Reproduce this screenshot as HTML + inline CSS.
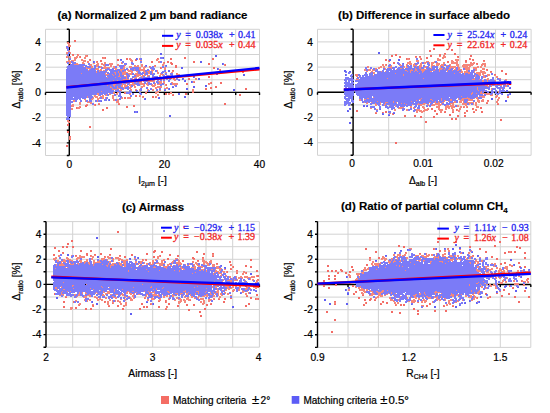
<!DOCTYPE html><html><head><meta charset="utf-8"><style>html,body{margin:0;padding:0;background:#fff;}svg{display:block;}</style></head><body><svg width="550" height="413" viewBox="0 0 550 413"><rect width="550" height="413" fill="#fff"/><style>text.r{stroke:#000;stroke-width:0.22px}</style><path d="M45.5 29.3V155.5M69.3 29.3V155.5M93.1 29.3V155.5M116.8 29.3V155.5M140.6 29.3V155.5M164.4 29.3V155.5M188.2 29.3V155.5M211.9 29.3V155.5M235.7 29.3V155.5M259.5 29.3V155.5M45.5 155.5H259.5M45.5 142.9H259.5M45.5 130.3H259.5M45.5 117.6H259.5M45.5 105H259.5M45.5 92.4H259.5M45.5 79.8H259.5M45.5 67.2H259.5M45.5 54.5H259.5M45.5 41.9H259.5M45.5 29.3H259.5" stroke="#d2d2d2" stroke-width="1" fill="none"/><path d="M317.5 29.3V155.3M353.1 29.3V155.3M388.7 29.3V155.3M424.3 29.3V155.3M459.9 29.3V155.3M495.5 29.3V155.3M531.1 29.3V155.3M317.5 155.3H531.1M317.5 142.7H531.1M317.5 130.1H531.1M317.5 117.5H531.1M317.5 104.9H531.1M317.5 92.3H531.1M317.5 79.7H531.1M317.5 67.1H531.1M317.5 54.5H531.1M317.5 41.9H531.1M317.5 29.3H531.1" stroke="#d2d2d2" stroke-width="1" fill="none"/><path d="M46 221.6V347.2M72.7 221.6V347.2M99.3 221.6V347.2M126 221.6V347.2M152.7 221.6V347.2M179.4 221.6V347.2M206 221.6V347.2M232.7 221.6V347.2M259.4 221.6V347.2M46 347.2H259.4M46 334.6H259.4M46 322.1H259.4M46 309.5H259.4M46 297H259.4M46 284.4H259.4M46 271.8H259.4M46 259.3H259.4M46 246.7H259.4M46 234.2H259.4M46 221.6H259.4" stroke="#d2d2d2" stroke-width="1" fill="none"/><path d="M317.5 221.6V347.4M348 221.6V347.4M378.4 221.6V347.4M408.9 221.6V347.4M439.4 221.6V347.4M469.9 221.6V347.4M500.3 221.6V347.4M530.8 221.6V347.4M317.5 347.4H530.8M317.5 334.8H530.8M317.5 322.2H530.8M317.5 309.7H530.8M317.5 297.1H530.8M317.5 284.5H530.8M317.5 271.9H530.8M317.5 259.3H530.8M317.5 246.8H530.8M317.5 234.2H530.8M317.5 221.6H530.8" stroke="#d2d2d2" stroke-width="1" fill="none"/><path d="M45.5 92.4H259.5M69.3 29.3V155.5M66.8 155.5H69.3M66.8 142.9H69.3M66.8 130.3H69.3M66.8 117.6H69.3M66.8 105H69.3M66.8 92.4H69.3M66.8 79.8H69.3M66.8 67.2H69.3M66.8 54.5H69.3M66.8 41.9H69.3M66.8 29.3H69.3M45.5 92.4V94.9M69.3 92.4V94.9M93.1 92.4V94.9M116.8 92.4V94.9M140.6 92.4V94.9M164.4 92.4V94.9M188.2 92.4V94.9M211.9 92.4V94.9M235.7 92.4V94.9M259.5 92.4V94.9" stroke="#000" stroke-width="1.4" fill="none"/><path d="M317.5 92.3H531.1M353.1 29.3V155.3M350.6 155.3H353.1M350.6 142.7H353.1M350.6 130.1H353.1M350.6 117.5H353.1M350.6 104.9H353.1M350.6 92.3H353.1M350.6 79.7H353.1M350.6 67.1H353.1M350.6 54.5H353.1M350.6 41.9H353.1M350.6 29.3H353.1M317.5 92.3V94.8M353.1 92.3V94.8M388.7 92.3V94.8M424.3 92.3V94.8M459.9 92.3V94.8M495.5 92.3V94.8M531.1 92.3V94.8" stroke="#000" stroke-width="1.4" fill="none"/><path d="M46 284.4H259.4M46 221.6V347.2M43.5 347.2H46M43.5 334.6H46M43.5 322.1H46M43.5 309.5H46M43.5 297H46M43.5 284.4H46M43.5 271.8H46M43.5 259.3H46M43.5 246.7H46M43.5 234.2H46M43.5 221.6H46M46 284.4V286.9M72.7 284.4V286.9M99.3 284.4V286.9M126 284.4V286.9M152.7 284.4V286.9M179.4 284.4V286.9M206 284.4V286.9M232.7 284.4V286.9M259.4 284.4V286.9" stroke="#000" stroke-width="1.4" fill="none"/><path d="M317.5 284.5H530.8M317.5 221.6V347.4M315 347.4H317.5M315 334.8H317.5M315 322.2H317.5M315 309.7H317.5M315 297.1H317.5M315 284.5H317.5M315 271.9H317.5M315 259.3H317.5M315 246.8H317.5M315 234.2H317.5M315 221.6H317.5M317.5 284.5V287M348 284.5V287M378.4 284.5V287M408.9 284.5V287M439.4 284.5V287M469.9 284.5V287M500.3 284.5V287M530.8 284.5V287" stroke="#000" stroke-width="1.4" fill="none"/><path d="M67 43h3v1h-3zM68 44h2v3h-2zM70 45h1v2h-1zM66 48h1v1h-1zM69 50h1v2h-1zM68 51h1v1h-1zM66 52h2v2h-2zM70 52h1v2h-1zM78 54h1v2h-1zM444 54h2v1h-2zM72 55h1v1h-1zM77 55h1v3h-1zM85 55h2v2h-2zM443 55h2v3h-2zM66 56h2v1h-2zM69 56h2v2h-2zM76 56h1v3h-1zM79 56h1v2h-1zM87 56h1v1h-1zM439 56h2v1h-2zM445 56h1v2h-1zM67 57h1v1h-1zM74 57h2v4h-2zM84 57h2v2h-2zM103 57h2v2h-2zM415 57h2v1h-2zM419 57h2v1h-2zM442 57h1v2h-1zM457 57h1v1h-1zM102 58h1v1h-1zM129 58h2v2h-2zM139 58h1v2h-1zM158 58h1v2h-1zM407 58h2v2h-2zM420 58h2v1h-2zM437 58h2v3h-2zM443 58h1v1h-1zM470 58h1v1h-1zM81 59h2v2h-2zM131 59h1v3h-1zM156 59h2v2h-2zM409 59h1v1h-1zM420 59h1v1h-1zM439 59h2v2h-2zM455 59h4v2h-4zM68 60h2v2h-2zM71 60h3v1h-3zM83 60h3v2h-3zM89 60h1v1h-1zM130 60h1v1h-1zM132 60h1v2h-1zM140 60h2v1h-2zM388 60h1v2h-1zM416 60h3v2h-3zM451 60h2v4h-2zM472 60h1v1h-1zM66 61h2v1h-2zM70 61h1v3h-1zM73 61h1v1h-1zM87 61h2v2h-2zM96 61h1v2h-1zM158 61h2v2h-2zM409 61h2v4h-2zM426 61h3v1h-3zM434 61h1v2h-1zM453 61h1v3h-1zM456 61h2v5h-2zM483 61h2v1h-2zM66 62h1v1h-1zM69 62h1v2h-1zM82 62h2v2h-2zM97 62h1v5h-1zM104 62h2v2h-2zM121 62h1v2h-1zM163 62h1v4h-1zM170 62h1v2h-1zM407 62h2v2h-2zM421 62h1v5h-1zM424 62h3v1h-3zM429 62h1v2h-1zM431 62h3v2h-3zM437 62h1v4h-1zM443 62h2v2h-2zM454 62h2v2h-2zM465 62h2v1h-2zM470 62h2v4h-2zM473 62h2v2h-2zM76 63h2v2h-2zM84 63h1v1h-1zM93 63h2v1h-2zM98 63h1v3h-1zM101 63h2v2h-2zM109 63h4v2h-4zM122 63h1v1h-1zM164 63h1v1h-1zM411 63h1v2h-1zM414 63h1v3h-1zM420 63h1v6h-1zM424 63h2v1h-2zM436 63h1v3h-1zM438 63h2v2h-2zM472 63h1v3h-1zM482 63h4v2h-4zM74 64h2v1h-2zM78 64h1v1h-1zM90 64h2v2h-2zM96 64h1v3h-1zM103 64h2v2h-2zM117 64h2v2h-2zM131 64h1v1h-1zM141 64h2v3h-2zM162 64h1v2h-1zM224 64h1v2h-1zM382 64h2v2h-2zM385 64h1v2h-1zM400 64h1v2h-1zM406 64h2v1h-2zM413 64h1v3h-1zM417 64h1v1h-1zM431 64h2v2h-2zM441 64h3v2h-3zM449 64h2v1h-2zM458 64h1v7h-1zM463 64h7v2h-7zM473 64h1v1h-1zM476 64h1v1h-1zM481 64h1v4h-1zM89 65h1v1h-1zM110 65h2v2h-2zM124 65h2v1h-2zM134 65h2v2h-2zM137 65h2v2h-2zM154 65h1v2h-1zM386 65h1v1h-1zM391 65h1v4h-1zM399 65h1v1h-1zM401 65h1v1h-1zM406 65h1v3h-1zM415 65h2v1h-2zM419 65h1v4h-1zM433 65h2v1h-2zM438 65h1v1h-1zM440 65h1v5h-1zM446 65h2v1h-2zM450 65h1v4h-1zM462 65h1v2h-1zM482 65h1v1h-1zM484 65h2v2h-2zM83 66h1v1h-1zM91 66h2v2h-2zM100 66h2v1h-2zM104 66h2v3h-2zM113 66h2v2h-2zM124 66h1v3h-1zM129 66h3v2h-3zM136 66h1v1h-1zM144 66h1v10h-1zM150 66h1v1h-1zM155 66h1v1h-1zM367 66h2v2h-2zM380 66h2v2h-2zM383 66h2v2h-2zM390 66h1v2h-1zM404 66h1v2h-1zM416 66h1v1h-1zM425 66h2v1h-2zM431 66h1v3h-1zM443 66h1v1h-1zM451 66h5v2h-5zM457 66h1v1h-1zM463 66h5v2h-5zM469 66h2v1h-2zM477 66h2v2h-2zM480 66h1v2h-1zM86 67h1v2h-1zM100 67h1v1h-1zM103 67h1v2h-1zM106 67h4v1h-4zM123 67h1v3h-1zM139 67h2v3h-2zM143 67h1v5h-1zM145 67h1v1h-1zM149 67h1v1h-1zM161 67h1v2h-1zM164 67h2v3h-2zM378 67h2v2h-2zM388 67h2v1h-2zM403 67h1v1h-1zM407 67h1v1h-1zM424 67h2v1h-2zM429 67h1v1h-1zM449 67h1v3h-1zM459 67h1v3h-1zM468 67h2v3h-2zM473 67h4v2h-4zM87 68h4v1h-4zM96 68h3v2h-3zM106 68h1v1h-1zM109 68h1v1h-1zM114 68h3v1h-3zM375 68h2v1h-2zM385 68h1v2h-1zM400 68h2v1h-2zM415 68h1v3h-1zM439 68h1v4h-1zM441 68h2v1h-2zM445 68h1v1h-1zM453 68h1v1h-1zM455 68h1v2h-1zM465 68h3v2h-3zM482 68h3v2h-3zM89 69h1v1h-1zM95 69h1v1h-1zM100 69h2v2h-2zM115 69h2v1h-2zM120 69h3v1h-3zM128 69h1v3h-1zM134 69h1v2h-1zM141 69h2v2h-2zM151 69h1v2h-1zM219 69h1v2h-1zM364 69h2v2h-2zM368 69h3v2h-3zM372 69h1v3h-1zM375 69h1v1h-1zM396 69h1v1h-1zM411 69h1v2h-1zM416 69h1v2h-1zM421 69h6v1h-6zM435 69h1v1h-1zM441 69h1v1h-1zM444 69h1v1h-1zM448 69h1v1h-1zM454 69h1v1h-1zM460 69h2v1h-2zM475 69h2v2h-2zM88 70h1v1h-1zM99 70h1v2h-1zM103 70h2v1h-2zM107 70h1v1h-1zM120 70h2v1h-2zM127 70h1v1h-1zM129 70h3v2h-3zM140 70h1v1h-1zM149 70h1v4h-1zM152 70h2v1h-2zM157 70h1v4h-1zM373 70h2v1h-2zM405 70h2v1h-2zM410 70h1v3h-1zM412 70h1v1h-1zM421 70h4v1h-4zM433 70h2v1h-2zM447 70h1v2h-1zM452 70h1v1h-1zM457 70h1v1h-1zM461 70h1v3h-1zM466 70h2v3h-2zM480 70h2v3h-2zM486 70h1v1h-1zM96 71h1v2h-1zM118 71h1v2h-1zM121 71h1v1h-1zM124 71h2v4h-2zM132 71h1v2h-1zM136 71h2v1h-2zM147 71h2v1h-2zM152 71h1v3h-1zM172 71h2v1h-2zM366 71h2v1h-2zM371 71h1v1h-1zM381 71h1v1h-1zM385 71h1v1h-1zM407 71h1v1h-1zM414 71h1v1h-1zM417 71h1v1h-1zM422 71h2v1h-2zM430 71h2v1h-2zM462 71h1v2h-1zM464 71h2v2h-2zM474 71h1v2h-1zM482 71h3v3h-3zM106 72h1v1h-1zM114 72h2v1h-2zM122 72h2v3h-2zM126 72h2v1h-2zM131 72h1v3h-1zM137 72h1v5h-1zM145 72h1v1h-1zM148 72h1v2h-1zM158 72h1v2h-1zM165 72h2v1h-2zM171 72h2v1h-2zM370 72h1v1h-1zM373 72h2v2h-2zM422 72h1v1h-1zM459 72h2v1h-2zM468 72h2v2h-2zM476 72h4v2h-4zM485 72h1v2h-1zM490 72h2v1h-2zM81 73h1v1h-1zM105 73h1v2h-1zM115 73h1v2h-1zM119 73h1v4h-1zM128 73h3v1h-3zM135 73h2v2h-2zM160 73h1v4h-1zM177 73h1v5h-1zM395 73h1v1h-1zM419 73h1v1h-1zM454 73h1v1h-1zM464 73h1v2h-1zM480 73h1v3h-1zM106 74h3v1h-3zM112 74h1v1h-1zM129 74h2v1h-2zM134 74h1v1h-1zM138 74h2v2h-2zM161 74h3v1h-3zM176 74h1v1h-1zM178 74h2v2h-2zM355 74h3v2h-3zM403 74h1v2h-1zM478 74h2v1h-2zM482 74h2v1h-2zM487 74h3v2h-3zM106 75h1v1h-1zM113 75h1v1h-1zM126 75h1v5h-1zM136 75h1v3h-1zM140 75h1v1h-1zM142 75h2v1h-2zM145 75h1v1h-1zM147 75h3v1h-3zM159 75h1v3h-1zM162 75h1v1h-1zM166 75h1v1h-1zM169 75h2v3h-2zM373 75h1v1h-1zM475 75h1v2h-1zM479 75h1v1h-1zM483 75h2v3h-2zM494 75h2v1h-2zM118 76h1v1h-1zM124 76h2v1h-2zM138 76h1v1h-1zM141 76h2v1h-2zM147 76h1v1h-1zM178 76h1v2h-1zM356 76h2v1h-2zM487 76h1v1h-1zM496 76h2v2h-2zM107 77h1v1h-1zM115 77h1v1h-1zM120 77h1v1h-1zM134 77h2v1h-2zM139 77h1v1h-1zM142 77h1v1h-1zM152 77h2v1h-2zM158 77h1v2h-1zM167 77h2v1h-2zM171 77h1v2h-1zM359 77h1v1h-1zM485 77h1v1h-1zM132 78h1v2h-1zM134 78h1v1h-1zM138 78h1v2h-1zM153 78h1v1h-1zM156 78h2v1h-2zM168 78h1v1h-1zM173 78h2v2h-2zM195 78h2v2h-2zM356 78h1v2h-1zM387 78h1v1h-1zM423 78h1v1h-1zM474 78h1v2h-1zM487 78h2v2h-2zM499 78h2v1h-2zM123 79h3v1h-3zM127 79h2v1h-2zM133 79h1v7h-1zM137 79h1v1h-1zM146 79h1v1h-1zM156 79h1v1h-1zM175 79h1v2h-1zM357 79h2v1h-2zM472 79h2v1h-2zM479 79h1v1h-1zM486 79h1v1h-1zM505 79h2v1h-2zM113 80h1v1h-1zM117 80h1v2h-1zM121 80h3v1h-3zM136 80h1v3h-1zM143 80h1v2h-1zM149 80h3v2h-3zM154 80h1v2h-1zM174 80h1v1h-1zM482 80h2v2h-2zM487 80h1v2h-1zM495 80h1v2h-1zM506 80h1v1h-1zM130 81h2v2h-2zM141 81h1v4h-1zM148 81h1v1h-1zM152 81h2v1h-2zM158 81h4v1h-4zM163 81h2v2h-2zM193 81h2v1h-2zM126 82h2v1h-2zM132 82h1v3h-1zM139 82h2v2h-2zM147 82h1v4h-1zM159 82h3v2h-3zM171 82h2v1h-2zM193 82h1v1h-1zM210 82h1v2h-1zM499 82h1v1h-1zM114 83h2v2h-2zM122 83h1v4h-1zM126 83h1v1h-1zM142 83h2v2h-2zM146 83h1v2h-1zM155 83h1v3h-1zM164 83h1v1h-1zM172 83h6v2h-6zM209 83h1v2h-1zM113 84h1v2h-1zM123 84h3v1h-3zM129 84h3v1h-3zM134 84h2v1h-2zM140 84h1v1h-1zM144 84h1v3h-1zM152 84h1v3h-1zM154 84h1v3h-1zM157 84h3v1h-3zM165 84h1v2h-1zM208 84h1v1h-1zM494 84h1v2h-1zM500 84h1v2h-1zM507 84h2v1h-2zM107 85h1v1h-1zM114 85h1v2h-1zM121 85h1v2h-1zM124 85h4v1h-4zM129 85h2v1h-2zM134 85h1v3h-1zM143 85h1v2h-1zM148 85h1v1h-1zM151 85h1v1h-1zM153 85h1v2h-1zM174 85h1v1h-1zM485 85h3v1h-3zM491 85h1v2h-1zM501 85h1v1h-1zM506 85h1v2h-1zM110 86h1v2h-1zM117 86h1v3h-1zM124 86h3v1h-3zM130 86h1v4h-1zM135 86h1v2h-1zM141 86h2v2h-2zM157 86h5v2h-5zM487 86h2v1h-2zM505 86h1v1h-1zM111 87h1v1h-1zM123 87h2v1h-2zM129 87h1v2h-1zM131 87h1v1h-1zM155 87h2v2h-2zM166 87h2v2h-2zM477 87h1v3h-1zM112 88h1v2h-1zM118 88h2v1h-2zM124 88h1v1h-1zM164 88h2v1h-2zM491 88h1v2h-1zM501 88h1v1h-1zM113 89h4v1h-4zM120 89h2v2h-2zM131 89h1v2h-1zM135 89h2v1h-2zM139 89h1v2h-1zM147 89h2v1h-2zM152 89h2v2h-2zM192 89h2v3h-2zM119 90h1v1h-1zM147 90h1v2h-1zM159 90h2v1h-2zM478 90h1v1h-1zM101 91h1v1h-1zM157 91h2v2h-2zM481 91h1v3h-1zM484 91h1v1h-1zM498 91h1v2h-1zM113 92h2v2h-2zM117 92h2v1h-2zM125 92h1v2h-1zM146 92h1v1h-1zM155 92h2v2h-2zM170 92h2v2h-2zM472 92h1v2h-1zM480 92h1v2h-1zM97 93h2v2h-2zM109 93h1v2h-1zM116 93h2v2h-2zM130 93h1v2h-1zM168 93h2v2h-2zM471 93h1v2h-1zM476 93h1v1h-1zM482 93h8v1h-8zM106 94h1v2h-1zM110 94h1v1h-1zM129 94h1v1h-1zM157 94h2v2h-2zM172 94h1v1h-1zM486 94h4v1h-4zM492 94h1v2h-1zM94 95h2v2h-2zM98 95h1v1h-1zM102 95h2v4h-2zM105 95h1v1h-1zM112 95h2v4h-2zM139 95h2v1h-2zM483 95h1v3h-1zM490 95h2v1h-2zM496 95h2v2h-2zM87 96h1v2h-1zM96 96h2v2h-2zM100 96h2v1h-2zM140 96h1v1h-1zM142 96h1v2h-1zM155 96h2v1h-2zM461 96h1v1h-1zM479 96h4v1h-4zM484 96h1v2h-1zM495 96h1v2h-1zM507 96h2v1h-2zM93 97h1v2h-1zM95 97h1v1h-1zM99 97h1v2h-1zM105 97h1v2h-1zM122 97h1v2h-1zM127 97h4v2h-4zM143 97h1v1h-1zM156 97h1v1h-1zM373 97h1v1h-1zM467 97h1v2h-1zM476 97h2v2h-2zM482 97h1v1h-1zM496 97h1v1h-1zM498 97h2v2h-2zM92 98h1v2h-1zM97 98h2v2h-2zM121 98h1v1h-1zM367 98h2v1h-2zM421 98h1v1h-1zM441 98h1v3h-1zM458 98h1v2h-1zM462 98h5v1h-5zM468 98h2v3h-2zM474 98h1v1h-1zM84 99h2v1h-2zM91 99h1v1h-1zM113 99h2v2h-2zM117 99h2v4h-2zM359 99h2v2h-2zM364 99h2v1h-2zM419 99h2v1h-2zM430 99h2v1h-2zM450 99h2v2h-2zM461 99h3v2h-3zM470 99h3v2h-3zM477 99h2v3h-2zM482 99h2v3h-2zM497 99h2v2h-2zM73 100h2v2h-2zM85 100h1v2h-1zM97 100h1v2h-1zM416 100h1v1h-1zM420 100h1v1h-1zM432 100h1v1h-1zM444 100h2v1h-2zM460 100h1v3h-1zM479 100h1v3h-1zM481 100h1v2h-1zM88 101h1v2h-1zM116 101h1v2h-1zM377 101h1v1h-1zM393 101h1v2h-1zM411 101h1v1h-1zM435 101h1v4h-1zM438 101h1v9h-1zM444 101h1v1h-1zM448 101h1v1h-1zM454 101h2v2h-2zM459 101h1v2h-1zM461 101h1v2h-1zM463 101h1v4h-1zM467 101h1v2h-1zM487 101h2v1h-2zM496 101h2v2h-2zM79 102h2v3h-2zM87 102h1v1h-1zM89 102h3v1h-3zM364 102h1v1h-1zM367 102h1v2h-1zM371 102h1v1h-1zM380 102h1v3h-1zM385 102h3v1h-3zM396 102h1v1h-1zM429 102h2v1h-2zM434 102h1v1h-1zM439 102h1v9h-1zM442 102h2v1h-2zM453 102h1v6h-1zM468 102h6v1h-6zM475 102h2v4h-2zM478 102h1v1h-1zM486 102h2v1h-2zM90 103h2v1h-2zM98 103h2v1h-2zM118 103h2v1h-2zM366 103h1v1h-1zM375 103h1v3h-1zM385 103h1v2h-1zM401 103h1v1h-1zM404 103h1v1h-1zM418 103h1v2h-1zM423 103h3v1h-3zM436 103h2v2h-2zM441 103h1v2h-1zM450 103h3v1h-3zM462 103h1v2h-1zM464 103h3v2h-3zM469 103h2v1h-2zM473 103h1v2h-1zM497 103h2v1h-2zM72 104h2v3h-2zM86 104h2v1h-2zM94 104h1v2h-1zM376 104h1v2h-1zM384 104h1v2h-1zM406 104h1v1h-1zM412 104h1v1h-1zM417 104h1v1h-1zM419 104h6v1h-6zM427 104h2v1h-2zM432 104h3v2h-3zM440 104h1v2h-1zM450 104h1v3h-1zM452 104h1v8h-1zM469 104h1v1h-1zM71 105h1v2h-1zM389 105h1v1h-1zM395 105h1v2h-1zM420 105h2v1h-2zM428 105h1v1h-1zM431 105h1v1h-1zM446 105h3v3h-3zM451 105h1v4h-1zM457 105h2v2h-2zM465 105h2v1h-2zM79 106h2v1h-2zM410 106h2v2h-2zM422 106h2v2h-2zM436 106h2v2h-2zM445 106h1v4h-1zM449 106h1v3h-1zM454 106h1v2h-1zM460 106h2v2h-2zM463 106h2v1h-2zM466 106h2v1h-2zM476 106h3v2h-3zM77 107h3v2h-3zM399 107h5v1h-5zM413 107h1v2h-1zM424 107h1v5h-1zM464 107h1v1h-1zM466 107h1v1h-1zM71 108h2v2h-2zM370 108h2v1h-2zM398 108h4v1h-4zM414 108h1v1h-1zM423 108h1v1h-1zM427 108h2v1h-2zM446 108h1v2h-1zM448 108h1v1h-1zM459 108h2v2h-2zM376 109h2v1h-2zM394 109h2v2h-2zM406 109h2v2h-2zM416 109h4v2h-4zM425 109h3v2h-3zM440 109h3v2h-3zM453 109h1v3h-1zM457 109h1v2h-1zM473 109h1v1h-1zM475 109h2v1h-2zM420 110h2v2h-2zM423 110h1v2h-1zM458 110h2v2h-2zM475 110h1v1h-1zM416 111h2v2h-2zM419 111h1v1h-1zM422 111h1v2h-1zM440 111h2v2h-2zM444 111h1v1h-1zM466 111h1v1h-1zM473 111h2v1h-2zM375 112h2v1h-2zM383 112h1v1h-1zM421 112h1v1h-1zM465 112h1v2h-1zM389 113h2v1h-2zM392 113h1v2h-1zM67 120h2v2h-2zM69 121h1v2h-1zM68 122h1v1h-1zM69 137h2v2h-2zM409 248h3v1h-3zM434 248h1v2h-1zM447 248h1v2h-1zM411 249h1v1h-1zM448 249h1v3h-1zM459 249h2v1h-2zM444 250h2v2h-2zM449 250h1v2h-1zM471 250h1v1h-1zM470 251h1v1h-1zM509 251h2v2h-2zM406 252h1v2h-1zM461 252h1v2h-1zM468 252h2v2h-2zM62 253h1v1h-1zM405 253h1v3h-1zM426 253h1v5h-1zM436 253h1v2h-1zM444 253h2v2h-2zM460 253h1v1h-1zM212 254h2v2h-2zM393 254h2v2h-2zM397 254h4v2h-4zM404 254h1v2h-1zM419 254h2v1h-2zM428 254h2v2h-2zM431 254h2v2h-2zM442 254h2v3h-2zM58 255h2v2h-2zM71 255h1v1h-1zM79 255h2v3h-2zM86 255h1v1h-1zM91 255h1v2h-1zM94 255h2v1h-2zM109 255h2v1h-2zM159 255h1v2h-1zM402 255h2v1h-2zM415 255h4v1h-4zM421 255h3v1h-3zM427 255h1v2h-1zM449 255h3v1h-3zM454 255h2v1h-2zM457 255h2v2h-2zM472 255h1v2h-1zM75 256h2v1h-2zM81 256h4v2h-4zM90 256h1v1h-1zM92 256h2v2h-2zM105 256h1v2h-1zM107 256h2v2h-2zM119 256h2v1h-2zM157 256h2v3h-2zM382 256h2v3h-2zM396 256h2v2h-2zM399 256h1v1h-1zM402 256h1v1h-1zM415 256h1v1h-1zM422 256h4v1h-4zM428 256h1v1h-1zM434 256h2v2h-2zM438 256h1v3h-1zM444 256h2v1h-2zM450 256h3v1h-3zM455 256h1v1h-1zM465 256h1v2h-1zM470 256h2v1h-2zM473 256h1v1h-1zM55 257h2v2h-2zM66 257h2v2h-2zM77 257h2v2h-2zM104 257h1v3h-1zM109 257h2v2h-2zM115 257h4v2h-4zM384 257h1v4h-1zM406 257h2v2h-2zM419 257h1v1h-1zM424 257h2v1h-2zM433 257h1v1h-1zM436 257h2v1h-2zM446 257h2v2h-2zM469 257h2v2h-2zM479 257h2v1h-2zM485 257h1v1h-1zM53 258h2v2h-2zM68 258h1v2h-1zM76 258h1v2h-1zM79 258h1v1h-1zM91 258h2v2h-2zM101 258h3v2h-3zM108 258h1v1h-1zM113 258h1v4h-1zM119 258h2v2h-2zM134 258h2v1h-2zM175 258h3v1h-3zM202 258h2v4h-2zM369 258h2v2h-2zM381 258h1v2h-1zM385 258h2v2h-2zM391 258h2v1h-2zM397 258h1v2h-1zM420 258h1v3h-1zM434 258h1v2h-1zM453 258h1v2h-1zM457 258h1v2h-1zM466 258h1v2h-1zM55 259h1v1h-1zM63 259h2v3h-2zM67 259h1v1h-1zM69 259h2v2h-2zM77 259h1v1h-1zM86 259h2v3h-2zM107 259h1v2h-1zM112 259h1v1h-1zM118 259h1v2h-1zM121 259h2v2h-2zM126 259h2v2h-2zM134 259h1v1h-1zM143 259h1v2h-1zM155 259h2v1h-2zM163 259h2v2h-2zM175 259h1v1h-1zM178 259h1v7h-1zM193 259h2v1h-2zM382 259h1v1h-1zM391 259h1v2h-1zM394 259h1v3h-1zM444 259h1v1h-1zM450 259h3v2h-3zM456 259h1v1h-1zM459 259h2v1h-2zM467 259h1v1h-1zM476 259h1v3h-1zM54 260h1v1h-1zM57 260h2v2h-2zM65 260h1v3h-1zM71 260h2v1h-2zM79 260h3v2h-3zM93 260h2v4h-2zM99 260h1v3h-1zM102 260h1v1h-1zM119 260h1v1h-1zM123 260h3v4h-3zM142 260h1v2h-1zM145 260h1v1h-1zM152 260h2v4h-2zM155 260h1v1h-1zM161 260h2v6h-2zM173 260h1v2h-1zM179 260h1v5h-1zM204 260h1v5h-1zM210 260h2v3h-2zM370 260h1v1h-1zM385 260h1v1h-1zM388 260h1v3h-1zM400 260h1v2h-1zM403 260h1v1h-1zM416 260h1v1h-1zM418 260h2v1h-2zM423 260h2v1h-2zM460 260h1v1h-1zM475 260h1v4h-1zM481 260h2v2h-2zM61 261h2v1h-2zM69 261h1v2h-1zM72 261h1v1h-1zM84 261h2v2h-2zM97 261h2v2h-2zM109 261h2v2h-2zM135 261h2v2h-2zM140 261h2v3h-2zM172 261h1v3h-1zM192 261h2v2h-2zM197 261h2v1h-2zM205 261h2v2h-2zM209 261h1v2h-1zM372 261h2v2h-2zM389 261h2v2h-2zM393 261h1v2h-1zM395 261h1v1h-1zM399 261h1v1h-1zM419 261h1v1h-1zM423 261h1v1h-1zM430 261h2v1h-2zM439 261h4v1h-4zM448 261h1v1h-1zM452 261h1v1h-1zM477 261h2v3h-2zM61 262h1v4h-1zM80 262h2v1h-2zM88 262h2v2h-2zM95 262h2v1h-2zM100 262h1v1h-1zM118 262h2v1h-2zM144 262h1v2h-1zM149 262h2v1h-2zM158 262h1v2h-1zM171 262h1v1h-1zM176 262h2v2h-2zM180 262h1v3h-1zM195 262h2v2h-2zM203 262h1v3h-1zM207 262h1v4h-1zM380 262h1v2h-1zM410 262h1v1h-1zM430 262h1v2h-1zM442 262h1v1h-1zM469 262h2v1h-2zM62 263h1v3h-1zM70 263h1v2h-1zM73 263h1v2h-1zM77 263h2v1h-2zM84 263h1v1h-1zM108 263h1v2h-1zM112 263h4v1h-4zM119 263h3v2h-3zM135 263h1v2h-1zM138 263h2v1h-2zM146 263h2v2h-2zM150 263h1v2h-1zM156 263h2v1h-2zM159 263h2v3h-2zM163 263h2v1h-2zM169 263h1v2h-1zM181 263h1v2h-1zM189 263h1v2h-1zM197 263h1v3h-1zM206 263h1v1h-1zM208 263h1v3h-1zM211 263h1v1h-1zM371 263h2v2h-2zM374 263h6v1h-6zM389 263h1v1h-1zM445 263h1v1h-1zM470 263h1v1h-1zM474 263h1v1h-1zM491 263h2v1h-2zM494 263h2v2h-2zM56 264h1v2h-1zM59 264h2v2h-2zM63 264h1v2h-1zM71 264h2v1h-2zM78 264h1v1h-1zM89 264h1v1h-1zM93 264h1v2h-1zM102 264h1v1h-1zM111 264h3v2h-3zM116 264h1v1h-1zM124 264h2v3h-2zM138 264h1v1h-1zM151 264h2v1h-2zM167 264h2v2h-2zM185 264h1v1h-1zM193 264h2v1h-2zM196 264h1v1h-1zM212 264h3v3h-3zM216 264h2v1h-2zM231 264h1v2h-1zM374 264h5v1h-5zM414 264h1v1h-1zM476 264h1v1h-1zM510 264h1v2h-1zM64 265h1v1h-1zM106 265h2v1h-2zM110 265h1v3h-1zM120 265h2v1h-2zM142 265h2v1h-2zM149 265h1v1h-1zM170 265h2v1h-2zM175 265h1v1h-1zM187 265h2v1h-2zM194 265h1v5h-1zM198 265h2v2h-2zM209 265h1v1h-1zM372 265h2v1h-2zM375 265h4v1h-4zM396 265h1v1h-1zM399 265h1v2h-1zM494 265h1v2h-1zM509 265h1v1h-1zM511 265h2v2h-2zM107 266h1v1h-1zM122 266h1v1h-1zM138 266h1v1h-1zM141 266h1v1h-1zM154 266h1v2h-1zM163 266h5v1h-5zM171 266h1v1h-1zM181 266h1v4h-1zM195 266h1v4h-1zM200 266h3v1h-3zM216 266h3v3h-3zM232 266h1v2h-1zM378 266h1v1h-1zM402 266h1v1h-1zM477 266h2v2h-2zM482 266h1v1h-1zM485 266h4v1h-4zM493 266h1v1h-1zM505 266h3v3h-3zM65 267h1v1h-1zM67 267h1v1h-1zM131 267h1v1h-1zM153 267h1v1h-1zM155 267h1v1h-1zM164 267h3v1h-3zM180 267h1v1h-1zM191 267h3v1h-3zM201 267h2v1h-2zM204 267h1v2h-1zM364 267h2v4h-2zM368 267h1v3h-1zM385 267h1v1h-1zM485 267h2v1h-2zM496 267h2v2h-2zM504 267h1v2h-1zM55 268h1v1h-1zM166 268h1v1h-1zM182 268h2v1h-2zM219 268h3v1h-3zM231 268h1v1h-1zM367 268h1v2h-1zM480 268h1v1h-1zM486 268h3v1h-3zM491 268h2v2h-2zM499 268h2v3h-2zM135 269h1v1h-1zM146 269h1v1h-1zM183 269h2v1h-2zM201 269h3v1h-3zM211 269h2v1h-2zM215 269h1v4h-1zM219 269h2v2h-2zM224 269h2v1h-2zM363 269h1v5h-1zM366 269h1v2h-1zM376 269h1v1h-1zM476 269h2v2h-2zM486 269h1v1h-1zM489 269h2v2h-2zM501 269h1v3h-1zM506 269h2v1h-2zM128 270h1v2h-1zM159 270h1v1h-1zM174 270h1v1h-1zM179 270h1v2h-1zM199 270h2v1h-2zM203 270h1v1h-1zM206 270h1v2h-1zM216 270h1v2h-1zM340 270h1v1h-1zM405 270h1v1h-1zM478 270h2v2h-2zM485 270h1v2h-1zM498 270h1v5h-1zM503 270h2v3h-2zM507 270h1v2h-1zM517 270h2v2h-2zM522 270h1v2h-1zM148 271h1v1h-1zM217 271h2v1h-2zM222 271h3v1h-3zM226 271h1v2h-1zM236 271h2v2h-2zM243 271h2v2h-2zM336 271h1v1h-1zM477 271h1v1h-1zM480 271h1v1h-1zM488 271h1v2h-1zM499 271h1v4h-1zM502 271h1v2h-1zM526 271h2v3h-2zM195 272h1v1h-1zM214 272h1v1h-1zM218 272h2v2h-2zM223 272h2v1h-2zM245 272h1v2h-1zM337 272h1v1h-1zM361 272h2v1h-2zM486 272h2v1h-2zM518 272h2v2h-2zM192 273h1v1h-1zM213 273h1v2h-1zM220 273h2v1h-2zM242 273h2v2h-2zM356 273h4v2h-4zM362 273h1v1h-1zM221 274h1v2h-1zM348 274h2v2h-2zM483 274h2v2h-2zM500 274h4v2h-4zM220 275h1v1h-1zM225 275h2v1h-2zM256 275h1v2h-1zM350 275h1v2h-1zM357 275h2v1h-2zM494 275h3v1h-3zM508 275h1v1h-1zM226 276h1v1h-1zM229 276h2v2h-2zM236 276h1v2h-1zM240 276h2v2h-2zM244 276h4v2h-4zM251 276h4v2h-4zM349 276h1v2h-1zM359 276h1v2h-1zM485 276h2v1h-2zM491 276h1v2h-1zM494 276h2v1h-2zM498 276h1v2h-1zM501 276h2v1h-2zM518 276h2v1h-2zM238 277h2v2h-2zM242 277h1v2h-1zM248 277h3v1h-3zM485 277h1v1h-1zM495 277h2v1h-2zM501 277h1v1h-1zM507 277h1v2h-1zM232 278h1v1h-1zM247 278h1v1h-1zM250 278h1v2h-1zM356 278h2v2h-2zM496 278h1v1h-1zM499 278h2v1h-2zM504 278h1v1h-1zM218 279h1v1h-1zM223 279h1v2h-1zM229 279h1v2h-1zM234 279h1v2h-1zM237 279h1v2h-1zM252 279h2v1h-2zM355 279h1v3h-1zM503 279h1v3h-1zM526 279h3v1h-3zM227 280h2v1h-2zM230 280h2v3h-2zM235 280h2v1h-2zM245 280h1v1h-1zM252 280h1v1h-1zM256 280h3v1h-3zM502 280h1v4h-1zM513 280h2v2h-2zM522 280h1v2h-1zM526 280h2v1h-2zM214 281h1v1h-1zM222 281h1v3h-1zM244 281h1v1h-1zM256 281h2v1h-2zM354 281h1v2h-1zM483 281h1v1h-1zM505 281h2v2h-2zM523 281h3v1h-3zM527 281h2v1h-2zM63 282h1v1h-1zM247 282h1v2h-1zM255 282h2v2h-2zM478 282h1v1h-1zM500 282h2v2h-2zM525 282h1v1h-1zM527 282h1v1h-1zM180 283h1v1h-1zM217 283h1v2h-1zM223 283h1v1h-1zM246 283h1v1h-1zM350 283h1v1h-1zM476 283h2v1h-2zM484 283h1v1h-1zM497 283h1v2h-1zM514 283h5v2h-5zM86 284h1v1h-1zM142 284h1v1h-1zM211 284h1v1h-1zM228 284h7v2h-7zM469 284h1v2h-1zM480 284h1v1h-1zM486 284h2v1h-2zM489 284h2v1h-2zM493 284h2v2h-2zM523 284h2v1h-2zM72 285h2v1h-2zM225 285h3v2h-3zM235 285h1v2h-1zM490 285h2v2h-2zM495 285h1v4h-1zM524 285h1v1h-1zM61 286h1v2h-1zM72 286h1v1h-1zM101 286h1v1h-1zM151 286h1v2h-1zM197 286h1v1h-1zM212 286h1v2h-1zM215 286h2v2h-2zM228 286h1v4h-1zM232 286h2v2h-2zM236 286h1v1h-1zM239 286h2v2h-2zM253 286h5v2h-5zM355 286h1v2h-1zM360 286h1v2h-1zM481 286h2v2h-2zM55 287h2v2h-2zM102 287h1v1h-1zM109 287h1v1h-1zM133 287h1v1h-1zM150 287h1v1h-1zM163 287h1v1h-1zM194 287h1v1h-1zM227 287h1v2h-1zM231 287h1v2h-1zM246 287h2v2h-2zM356 287h1v1h-1zM358 287h2v2h-2zM486 287h1v2h-1zM496 287h1v2h-1zM512 287h1v1h-1zM73 288h1v1h-1zM90 288h1v1h-1zM156 288h1v2h-1zM162 288h1v1h-1zM206 288h1v1h-1zM217 288h1v5h-1zM229 288h2v1h-2zM239 288h1v3h-1zM245 288h1v2h-1zM250 288h1v1h-1zM255 288h2v1h-2zM361 288h2v3h-2zM485 288h1v1h-1zM57 289h1v1h-1zM63 289h2v1h-2zM93 289h1v1h-1zM114 289h1v3h-1zM122 289h1v1h-1zM153 289h1v1h-1zM226 289h1v2h-1zM229 289h1v1h-1zM233 289h2v2h-2zM238 289h1v2h-1zM246 289h1v1h-1zM249 289h1v1h-1zM348 289h2v2h-2zM359 289h2v2h-2zM363 289h2v3h-2zM366 289h2v2h-2zM476 289h1v1h-1zM100 290h1v1h-1zM185 290h1v3h-1zM218 290h1v6h-1zM222 290h1v1h-1zM225 290h1v1h-1zM232 290h1v2h-1zM242 290h1v3h-1zM369 290h2v1h-2zM382 290h2v2h-2zM387 290h1v1h-1zM456 290h1v1h-1zM471 290h1v2h-1zM479 290h1v3h-1zM62 291h1v1h-1zM67 291h1v1h-1zM70 291h1v1h-1zM103 291h1v2h-1zM107 291h3v3h-3zM127 291h2v1h-2zM132 291h2v1h-2zM144 291h1v1h-1zM148 291h1v1h-1zM154 291h1v5h-1zM167 291h2v1h-2zM183 291h2v1h-2zM196 291h3v1h-3zM206 291h1v1h-1zM216 291h1v2h-1zM243 291h2v1h-2zM247 291h1v1h-1zM365 291h1v2h-1zM370 291h3v1h-3zM376 291h2v1h-2zM381 291h1v2h-1zM435 291h2v2h-2zM478 291h1v4h-1zM482 291h1v1h-1zM499 291h1v1h-1zM61 292h1v3h-1zM79 292h1v4h-1zM82 292h1v2h-1zM85 292h1v2h-1zM96 292h1v1h-1zM104 292h1v1h-1zM126 292h2v2h-2zM129 292h1v2h-1zM136 292h1v1h-1zM149 292h5v1h-5zM168 292h2v1h-2zM188 292h1v1h-1zM198 292h1v2h-1zM205 292h1v1h-1zM210 292h1v3h-1zM213 292h1v1h-1zM224 292h2v1h-2zM243 292h1v1h-1zM248 292h1v2h-1zM355 292h1v1h-1zM361 292h2v2h-2zM364 292h1v1h-1zM372 292h1v4h-1zM377 292h4v1h-4zM382 292h1v1h-1zM391 292h1v2h-1zM424 292h1v2h-1zM434 292h1v1h-1zM437 292h3v1h-3zM474 292h1v2h-1zM477 292h1v2h-1zM86 293h1v1h-1zM95 293h1v1h-1zM97 293h1v1h-1zM105 293h2v1h-2zM122 293h1v3h-1zM130 293h2v2h-2zM134 293h1v2h-1zM149 293h1v1h-1zM175 293h3v1h-3zM180 293h3v1h-3zM186 293h2v2h-2zM195 293h1v2h-1zM214 293h2v1h-2zM220 293h2v2h-2zM225 293h1v1h-1zM227 293h2v2h-2zM245 293h2v2h-2zM354 293h1v1h-1zM363 293h1v2h-1zM371 293h1v3h-1zM373 293h1v2h-1zM378 293h3v3h-3zM388 293h1v1h-1zM395 293h1v1h-1zM419 293h2v2h-2zM435 293h1v2h-1zM441 293h1v1h-1zM451 293h1v3h-1zM62 294h2v1h-2zM74 294h2v1h-2zM78 294h1v2h-1zM89 294h1v3h-1zM102 294h2v2h-2zM105 294h1v1h-1zM110 294h2v1h-2zM115 294h3v1h-3zM121 294h1v1h-1zM123 294h1v2h-1zM133 294h1v5h-1zM138 294h2v1h-2zM146 294h2v1h-2zM152 294h2v1h-2zM155 294h2v2h-2zM158 294h1v3h-1zM162 294h1v1h-1zM172 294h1v3h-1zM177 294h1v1h-1zM180 294h1v1h-1zM190 294h1v2h-1zM206 294h2v3h-2zM211 294h1v1h-1zM215 294h1v1h-1zM362 294h1v1h-1zM374 294h1v1h-1zM386 294h2v1h-2zM415 294h2v1h-2zM425 294h1v1h-1zM452 294h2v3h-2zM457 294h2v1h-2zM461 294h1v1h-1zM472 294h2v1h-2zM59 295h2v1h-2zM63 295h1v1h-1zM74 295h1v1h-1zM84 295h1v3h-1zM87 295h2v1h-2zM90 295h1v2h-1zM104 295h1v1h-1zM120 295h1v1h-1zM132 295h1v2h-1zM146 295h1v2h-1zM153 295h1v2h-1zM157 295h1v1h-1zM166 295h2v2h-2zM169 295h1v2h-1zM173 295h2v1h-2zM183 295h1v1h-1zM204 295h2v1h-2zM213 295h2v2h-2zM221 295h2v1h-2zM230 295h2v1h-2zM246 295h2v1h-2zM369 295h2v1h-2zM381 295h2v2h-2zM384 295h2v1h-2zM393 295h1v1h-1zM406 295h1v1h-1zM413 295h3v1h-3zM450 295h1v1h-1zM456 295h2v1h-2zM465 295h2v2h-2zM470 295h2v3h-2zM473 295h2v1h-2zM65 296h2v1h-2zM77 296h1v1h-1zM85 296h2v2h-2zM94 296h2v2h-2zM112 296h2v1h-2zM124 296h2v1h-2zM128 296h2v1h-2zM145 296h1v3h-1zM148 296h1v1h-1zM159 296h1v1h-1zM163 296h2v2h-2zM173 296h1v1h-1zM184 296h1v2h-1zM191 296h2v2h-2zM198 296h2v1h-2zM202 296h3v1h-3zM219 296h2v2h-2zM377 296h2v2h-2zM380 296h1v1h-1zM400 296h1v1h-1zM414 296h2v2h-2zM423 296h1v1h-1zM426 296h2v1h-2zM434 296h1v2h-1zM437 296h1v5h-1zM441 296h1v2h-1zM474 296h2v2h-2zM489 296h1v2h-1zM76 297h1v1h-1zM83 297h1v1h-1zM96 297h2v2h-2zM105 297h2v2h-2zM113 297h4v1h-4zM125 297h1v1h-1zM127 297h1v1h-1zM130 297h1v4h-1zM144 297h1v1h-1zM152 297h1v3h-1zM176 297h2v2h-2zM185 297h1v1h-1zM187 297h2v3h-2zM194 297h1v2h-1zM197 297h2v1h-2zM212 297h1v1h-1zM375 297h2v2h-2zM389 297h2v2h-2zM395 297h1v1h-1zM407 297h1v2h-1zM411 297h1v1h-1zM416 297h1v2h-1zM427 297h4v1h-4zM435 297h2v1h-2zM459 297h1v1h-1zM468 297h2v1h-2zM476 297h1v2h-1zM487 297h2v1h-2zM99 298h2v2h-2zM115 298h2v1h-2zM131 298h1v3h-1zM134 298h1v1h-1zM151 298h1v2h-1zM153 298h1v2h-1zM160 298h1v3h-1zM168 298h1v2h-1zM180 298h1v5h-1zM186 298h1v2h-1zM195 298h1v1h-1zM198 298h1v1h-1zM200 298h4v2h-4zM213 298h2v1h-2zM218 298h2v1h-2zM256 298h2v2h-2zM371 298h1v2h-1zM399 298h1v1h-1zM415 298h1v1h-1zM418 298h2v2h-2zM428 298h3v1h-3zM433 298h1v1h-1zM436 298h1v1h-1zM444 298h2v1h-2zM473 298h2v2h-2zM488 298h1v1h-1zM84 299h1v2h-1zM89 299h2v2h-2zM97 299h2v2h-2zM101 299h2v2h-2zM109 299h2v2h-2zM120 299h2v1h-2zM124 299h2v1h-2zM132 299h1v2h-1zM147 299h2v2h-2zM154 299h1v1h-1zM159 299h1v2h-1zM175 299h1v2h-1zM178 299h2v1h-2zM181 299h1v3h-1zM183 299h2v2h-2zM189 299h2v1h-2zM208 299h4v1h-4zM213 299h1v1h-1zM374 299h2v1h-2zM390 299h3v2h-3zM398 299h1v2h-1zM413 299h2v4h-2zM423 299h2v2h-2zM438 299h3v1h-3zM445 299h1v2h-1zM450 299h2v2h-2zM462 299h1v2h-1zM75 300h2v1h-2zM87 300h1v2h-1zM112 300h1v3h-1zM115 300h1v2h-1zM117 300h2v2h-2zM125 300h1v1h-1zM158 300h1v1h-1zM166 300h1v3h-1zM174 300h1v1h-1zM185 300h1v3h-1zM188 300h2v1h-2zM203 300h2v4h-2zM208 300h3v1h-3zM393 300h1v2h-1zM411 300h2v3h-2zM415 300h1v2h-1zM422 300h1v3h-1zM425 300h2v2h-2zM439 300h2v1h-2zM448 300h2v4h-2zM457 300h1v2h-1zM471 300h2v1h-2zM76 301h1v1h-1zM107 301h2v4h-2zM119 301h2v2h-2zM178 301h2v3h-2zM184 301h1v2h-1zM200 301h2v2h-2zM208 301h2v1h-2zM394 301h1v3h-1zM408 301h2v1h-2zM421 301h1v2h-1zM424 301h1v2h-1zM432 301h1v2h-1zM458 301h1v1h-1zM477 301h1v1h-1zM105 302h1v1h-1zM113 302h1v2h-1zM125 302h2v4h-2zM334 302h2v2h-2zM365 302h1v2h-1zM382 302h1v1h-1zM395 302h1v3h-1zM397 302h2v2h-2zM417 302h1v1h-1zM425 302h1v1h-1zM455 302h2v1h-2zM79 303h2v2h-2zM120 303h2v2h-2zM150 303h2v1h-2zM202 303h1v2h-1zM210 303h1v1h-1zM381 303h1v1h-1zM450 303h1v2h-1zM78 304h1v2h-1zM92 304h2v1h-2zM151 304h1v1h-1zM203 304h1v1h-1zM364 304h1v1h-1zM396 304h1v2h-1zM446 304h2v2h-2zM449 304h1v1h-1zM108 305h2v1h-2zM123 305h2v2h-2zM421 305h3v1h-3zM444 305h1v1h-1zM452 305h2v1h-2zM92 306h1v1h-1zM167 306h1v2h-1zM423 306h1v1h-1zM70 307h3v2h-3zM166 307h1v2h-1zM165 308h1v1h-1zM70 309h2v1h-2z" fill="#f5877b"/><path d="M74 40h2v2h-2zM67 42h2v1h-2zM433 48h2v2h-2zM451 49h2v2h-2zM429 50h2v2h-2zM444 53h2v1h-2zM454 53h2v2h-2zM72 54h2v1h-2zM77 54h1v1h-1zM395 54h2v2h-2zM439 54h2v2h-2zM73 55h1v1h-1zM87 55h1v1h-1zM391 55h2v2h-2zM430 55h2v2h-2zM470 55h2v2h-2zM80 56h1v2h-1zM399 56h2v2h-2zM415 56h2v1h-2zM419 56h2v1h-2zM457 56h2v1h-2zM66 57h1v1h-1zM102 57h1v1h-1zM105 57h1v2h-1zM184 57h2v2h-2zM426 57h2v2h-2zM458 57h1v1h-1zM126 58h2v2h-2zM157 58h1v1h-1zM170 58h2v2h-2zM212 58h2v2h-2zM406 58h1v2h-1zM409 58h1v1h-1zM469 58h1v2h-1zM89 59h2v1h-2zM117 59h2v2h-2zM135 59h1v2h-1zM385 59h2v2h-2zM421 59h1v1h-1zM470 59h1v1h-1zM472 59h2v1h-2zM90 60h1v1h-1zM100 60h2v2h-2zM136 60h1v1h-1zM465 60h2v2h-2zM473 60h1v1h-1zM483 60h2v1h-2zM97 61h1v1h-1zM151 61h2v2h-2zM167 61h2v2h-2zM193 61h2v2h-2zM389 61h1v1h-1zM447 61h2v2h-2zM164 62h1v1h-1zM171 62h1v3h-1zM393 62h2v2h-2zM172 63h1v2h-1zM208 63h2v2h-2zM476 63h2v1h-2zM225 64h1v2h-1zM386 64h1v1h-1zM477 64h1v1h-1zM155 65h1v1h-1zM175 65h2v3h-2zM149 66h1v1h-1zM160 67h1v2h-1zM213 67h2v2h-2zM220 69h1v2h-1zM486 69h2v1h-2zM172 70h2v1h-2zM487 70h1v1h-1zM501 70h2v2h-2zM242 71h2v2h-2zM490 71h2v1h-2zM176 73h1v1h-1zM505 73h2v2h-2zM494 74h2v1h-2zM208 76h2v2h-2zM188 78h2v2h-2zM236 78h2v2h-2zM194 82h1v1h-1zM211 82h1v2h-1zM220 82h2v2h-2zM186 83h2v2h-2zM208 83h1v1h-1zM166 84h1v2h-1zM215 86h2v2h-2zM210 87h2v2h-2zM205 88h2v2h-2zM245 88h2v2h-2zM135 90h1v1h-1zM124 92h1v2h-1zM145 92h1v2h-1zM192 92h2v1h-2zM146 93h1v1h-1zM165 93h2v2h-2zM185 93h2v2h-2zM173 94h1v2h-1zM239 94h2v2h-2zM135 95h2v2h-2zM172 95h1v1h-1zM139 96h1v1h-1zM143 96h1v1h-1zM152 96h2v2h-2zM124 97h2v2h-2zM155 97h1v1h-1zM507 97h2v1h-2zM487 100h2v1h-2zM224 103h2v2h-2zM486 103h2v1h-2zM95 104h1v2h-1zM98 104h2v1h-2zM118 104h2v1h-2zM497 104h2v1h-2zM85 105h3v1h-3zM133 105h2v2h-2zM85 106h2v1h-2zM126 106h2v2h-2zM76 107h1v2h-1zM80 107h1v1h-1zM106 107h2v2h-2zM463 107h1v1h-1zM467 107h1v1h-1zM480 107h2v2h-2zM431 108h2v2h-2zM472 108h2v1h-2zM102 109h2v2h-2zM428 109h1v1h-1zM456 109h1v2h-1zM472 109h1v1h-1zM356 110h2v2h-2zM434 110h2v2h-2zM466 110h2v1h-2zM476 110h1v1h-1zM385 111h2v2h-2zM445 111h1v2h-1zM467 111h1v1h-1zM481 111h2v2h-2zM382 112h1v1h-1zM444 112h1v1h-1zM452 112h2v1h-2zM464 112h1v2h-1zM473 112h2v1h-2zM375 113h2v1h-2zM436 113h2v2h-2zM393 114h1v1h-1zM449 114h2v2h-2zM404 115h2v2h-2zM414 115h2v2h-2zM457 115h2v2h-2zM464 115h2v2h-2zM420 116h2v2h-2zM433 116h2v2h-2zM451 118h2v2h-2zM455 118h2v2h-2zM500 119h2v2h-2zM425 121h2v2h-2zM67 124h2v2h-2zM89 126h2v2h-2zM67 131h2v2h-2zM69 136h2v1h-2zM69 139h2v1h-2zM395 142h2v2h-2zM66 145h2v2h-2zM183 226h2v2h-2zM117 231h2v2h-2zM71 240h2v2h-2zM437 241h2v2h-2zM455 241h2v2h-2zM499 241h2v2h-2zM67 243h2v2h-2zM398 245h2v2h-2zM494 245h2v2h-2zM62 246h2v2h-2zM66 246h2v2h-2zM72 246h2v2h-2zM403 246h2v2h-2zM469 246h2v2h-2zM516 246h2v2h-2zM54 247h2v2h-2zM519 247h2v2h-2zM110 248h2v2h-2zM365 248h2v2h-2zM433 248h1v2h-1zM448 248h1v1h-1zM479 248h2v2h-2zM58 250h2v2h-2zM80 250h2v2h-2zM90 250h2v2h-2zM154 250h2v2h-2zM439 250h2v2h-2zM153 251h1v2h-1zM161 251h2v2h-2zM196 251h2v2h-2zM375 251h2v2h-2zM485 251h2v2h-2zM508 251h1v2h-1zM511 251h1v2h-1zM514 251h2v2h-2zM62 252h2v1h-2zM154 252h1v1h-1zM405 252h1v1h-1zM504 252h2v2h-2zM524 252h2v2h-2zM63 253h1v1h-1zM86 253h2v2h-2zM100 253h2v2h-2zM146 253h2v2h-2zM203 253h2v2h-2zM212 253h2v1h-2zM419 253h2v1h-2zM53 254h2v2h-2zM94 254h2v1h-2zM109 254h2v1h-2zM131 254h2v2h-2zM169 254h2v2h-2zM75 255h2v1h-2zM87 255h1v1h-1zM90 255h1v1h-1zM119 255h2v1h-2zM160 255h1v2h-1zM177 255h2v2h-2zM473 255h1v1h-1zM104 256h1v1h-1zM124 256h2v2h-2zM153 256h2v2h-2zM212 256h2v1h-2zM491 256h2v2h-2zM192 257h2v2h-2zM202 257h2v1h-2zM369 257h2v1h-2zM378 257h2v2h-2zM524 257h2v2h-2zM167 258h2v2h-2zM194 258h1v1h-1zM496 258h2v2h-2zM142 259h1v1h-1zM145 259h2v1h-2zM250 259h2v2h-2zM146 260h1v1h-1zM182 260h2v2h-2zM197 260h2v1h-2zM369 260h1v1h-1zM229 261h2v2h-2zM504 262h2v2h-2zM518 262h2v2h-2zM216 263h2v1h-2zM500 263h2v2h-2zM230 264h1v2h-1zM366 264h2v2h-2zM509 264h1v1h-1zM245 265h2v2h-2zM327 265h2v2h-2zM233 266h1v2h-1zM250 266h2v2h-2zM351 266h2v2h-2zM519 266h2v1h-2zM524 266h2v2h-2zM519 267h1v1h-1zM230 268h1v2h-1zM231 269h1v1h-1zM340 269h2v1h-2zM352 269h2v2h-2zM236 270h2v1h-2zM256 270h2v2h-2zM327 270h2v2h-2zM331 270h2v2h-2zM335 270h2v1h-2zM341 270h2v2h-2zM227 271h1v2h-1zM335 271h1v1h-1zM349 271h2v2h-2zM246 272h1v2h-1zM338 272h1v2h-1zM345 272h2v2h-2zM236 273h2v1h-2zM337 273h1v1h-1zM257 275h2v2h-2zM328 275h2v2h-2zM334 275h2v2h-2zM509 275h1v1h-1zM350 277h1v1h-1zM328 278h2v2h-2zM334 278h2v2h-2zM527 278h2v1h-2zM257 279h2v1h-2zM323 280h2v2h-2zM521 280h1v2h-1zM348 281h2v2h-2zM350 282h1v1h-1zM528 282h1v1h-1zM349 283h1v1h-1zM335 284h2v2h-2zM323 285h2v2h-2zM352 285h2v2h-2zM509 285h1v2h-1zM523 285h1v1h-1zM258 286h1v2h-1zM328 287h2v2h-2zM513 287h1v2h-1zM512 288h1v1h-1zM503 289h2v2h-2zM524 290h2v2h-2zM233 291h1v1h-1zM355 291h2v1h-2zM500 291h1v1h-1zM356 292h1v1h-1zM54 293h1v2h-1zM353 293h1v2h-1zM485 293h2v1h-2zM496 293h2v1h-2zM508 293h2v2h-2zM256 294h2v2h-2zM354 294h1v1h-1zM485 294h1v1h-1zM362 295h2v1h-2zM501 295h2v2h-2zM246 296h2v1h-2zM490 296h1v2h-1zM514 296h2v2h-2zM528 296h2v2h-2zM65 297h2v1h-2zM250 297h2v2h-2zM358 297h2v2h-2zM477 297h1v2h-1zM144 298h1v1h-1zM224 298h2v2h-2zM230 298h2v1h-2zM255 298h1v2h-1zM258 298h1v2h-1zM370 298h1v3h-1zM487 298h1v1h-1zM169 299h1v1h-1zM214 299h1v1h-1zM218 299h2v1h-2zM364 299h2v2h-2zM369 299h1v2h-1zM165 300h1v3h-1zM190 300h1v1h-1zM374 300h2v1h-2zM63 301h2v2h-2zM73 301h1v2h-1zM104 301h2v1h-2zM158 301h2v1h-2zM223 301h2v2h-2zM334 301h2v1h-2zM382 301h2v1h-2zM518 301h2v2h-2zM104 302h1v1h-1zM366 302h1v2h-1zM383 302h1v1h-1zM386 302h2v2h-2zM418 302h1v1h-1zM112 303h1v1h-1zM141 303h2v2h-2zM168 303h2v2h-2zM211 303h1v2h-1zM248 303h2v2h-2zM380 303h1v2h-1zM429 303h2v2h-2zM150 304h1v1h-1zM186 304h2v2h-2zM193 304h2v2h-2zM206 304h2v2h-2zM210 304h1v1h-1zM334 304h2v1h-2zM363 304h1v2h-1zM381 304h1v1h-1zM400 304h2v2h-2zM403 304h2v2h-2zM79 305h1v1h-1zM92 305h2v1h-2zM117 305h2v2h-2zM177 305h2v2h-2zM245 305h2v2h-2zM364 305h1v1h-1zM395 305h1v1h-1zM426 305h2v2h-2zM443 305h1v2h-1zM63 306h2v2h-2zM93 306h1v1h-1zM108 306h2v1h-2zM143 306h2v2h-2zM146 306h2v2h-2zM158 306h2v2h-2zM166 306h1v1h-1zM444 306h1v1h-1zM452 306h2v1h-2zM75 307h2v2h-2zM85 308h2v2h-2zM90 308h2v2h-2zM122 308h2v2h-2zM139 308h2v2h-2zM204 308h2v2h-2zM413 308h2v2h-2zM165 309h2v1h-2zM188 309h2v2h-2zM417 310h2v2h-2zM434 310h2v2h-2zM445 310h2v2h-2zM199 311h2v2h-2zM326 311h2v2h-2zM391 311h2v2h-2zM399 312h2v2h-2zM417 313h2v2h-2zM200 315h2v2h-2zM334 319h2v2h-2zM331 331h2v2h-2z" fill="#f36c66"/><path d="M66 46h2v2h-2zM68 47h1v4h-1zM67 48h1v3h-1zM68 52h2v2h-2zM67 54h2v2h-2zM160 57h3v2h-3zM69 58h2v2h-2zM137 58h1v2h-1zM140 58h2v2h-2zM416 58h2v2h-2zM120 60h2v1h-2zM71 61h2v2h-2zM94 61h1v2h-1zM122 61h2v2h-2zM140 61h2v2h-2zM160 61h2v2h-2zM435 61h2v2h-2zM67 62h2v2h-2zM73 62h3v2h-3zM131 62h2v2h-2zM397 62h2v2h-2zM417 62h2v2h-2zM422 62h2v2h-2zM427 62h2v3h-2zM72 63h1v37h-1zM88 63h2v2h-2zM124 63h3v2h-3zM133 63h1v2h-1zM223 63h1v2h-1zM399 63h1v2h-1zM402 63h1v44h-1zM415 63h2v2h-2zM70 64h2v36h-2zM73 64h1v33h-1zM79 64h6v2h-6zM105 64h4v2h-4zM132 64h1v1h-1zM389 64h2v2h-2zM398 64h1v1h-1zM403 64h1v3h-1zM429 64h1v2h-1zM444 64h2v2h-2zM68 65h2v52h-2zM74 65h5v34h-5zM85 65h2v2h-2zM94 65h2v4h-2zM119 65h5v2h-5zM145 65h1v2h-1zM165 65h1v2h-1zM388 65h1v2h-1zM407 65h2v2h-2zM410 65h2v4h-2zM423 65h2v2h-2zM428 65h1v39h-1zM448 65h2v2h-2zM67 66h1v54h-1zM79 66h4v7h-4zM87 66h4v2h-4zM98 66h2v2h-2zM115 66h2v2h-2zM146 66h1v1h-1zM152 66h2v4h-2zM162 66h2v2h-2zM166 66h1v1h-1zM389 66h1v1h-1zM395 66h2v2h-2zM400 66h2v2h-2zM409 66h1v40h-1zM414 66h2v2h-2zM417 66h2v5h-2zM427 66h1v38h-1zM432 66h6v2h-6zM441 66h2v2h-2zM446 66h2v4h-2zM83 67h3v32h-3zM101 67h2v2h-2zM120 67h3v2h-3zM132 67h7v2h-7zM150 67h2v2h-2zM365 67h2v2h-2zM370 67h2v2h-2zM392 67h3v2h-3zM398 67h2v39h-2zM408 67h1v39h-1zM416 67h1v2h-1zM421 67h3v2h-3zM426 67h1v2h-1zM443 67h2v2h-2zM448 67h1v2h-1zM456 67h2v3h-2zM91 68h3v27h-3zM107 68h2v2h-2zM112 68h2v6h-2zM126 68h2v2h-2zM130 68h2v2h-2zM154 68h1v2h-1zM218 68h1v2h-1zM373 68h2v2h-2zM383 68h2v2h-2zM387 68h4v3h-4zM397 68h1v34h-1zM403 68h1v6h-1zM405 68h3v2h-3zM412 68h3v2h-3zM429 68h2v3h-2zM432 68h3v2h-3zM436 68h2v35h-2zM451 68h2v2h-2zM463 68h2v2h-2zM66 69h1v47h-1zM86 69h2v27h-2zM90 69h1v33h-1zM94 69h1v26h-1zM105 69h2v3h-2zM109 69h3v2h-3zM117 69h3v2h-3zM124 69h2v2h-2zM132 69h2v2h-2zM135 69h4v2h-4zM147 69h2v2h-2zM366 69h2v2h-2zM376 69h2v3h-2zM386 69h1v33h-1zM391 69h1v41h-1zM393 69h2v32h-2zM400 69h2v34h-2zM404 69h1v34h-1zM410 69h1v1h-1zM419 69h2v4h-2zM431 69h1v2h-1zM438 69h1v31h-1zM442 69h2v33h-2zM445 69h1v31h-1zM450 69h1v30h-1zM473 69h2v2h-2zM89 70h1v32h-1zM95 70h1v25h-1zM97 70h2v23h-2zM114 70h3v2h-3zM122 70h2v2h-2zM139 70h1v4h-1zM145 70h2v2h-2zM155 70h2v2h-2zM164 70h2v2h-2zM375 70h1v2h-1zM382 70h2v33h-2zM392 70h1v40h-1zM395 70h2v3h-2zM407 70h1v1h-1zM413 70h2v1h-2zM425 70h2v33h-2zM432 70h1v1h-1zM435 70h1v31h-1zM440 70h2v28h-2zM444 70h1v30h-1zM446 70h1v1h-1zM448 70h2v27h-2zM451 70h1v29h-1zM453 70h4v3h-4zM459 70h2v2h-2zM468 70h2v2h-2zM471 70h2v9h-2zM88 71h1v27h-1zM100 71h5v20h-5zM110 71h2v15h-2zM117 71h1v9h-1zM119 71h2v2h-2zM138 71h1v3h-1zM150 71h2v4h-2zM162 71h2v2h-2zM346 71h1v2h-1zM378 71h3v31h-3zM387 71h2v7h-2zM390 71h1v37h-1zM405 71h2v33h-2zM411 71h3v30h-3zM415 71h2v29h-2zM418 71h1v32h-1zM421 71h1v27h-1zM424 71h1v32h-1zM429 71h1v31h-1zM433 71h2v31h-2zM452 71h1v32h-1zM457 71h2v27h-2zM473 71h1v2h-1zM99 72h1v24h-1zM105 72h1v1h-1zM107 72h2v2h-2zM116 72h1v17h-1zM121 72h1v8h-1zM140 72h1v3h-1zM142 72h2v2h-2zM146 72h2v3h-2zM161 72h1v2h-1zM345 72h1v1h-1zM348 72h3v1h-3zM365 72h2v27h-2zM371 72h2v24h-2zM377 72h1v29h-1zM381 72h1v31h-1zM384 72h2v30h-2zM389 72h1v33h-1zM407 72h1v35h-1zM414 72h1v30h-1zM417 72h1v32h-1zM423 72h1v6h-1zM430 72h3v27h-3zM439 72h1v30h-1zM446 72h2v29h-2zM470 72h1v27h-1zM79 73h2v27h-2zM82 73h1v26h-1zM96 73h1v22h-1zM109 73h1v20h-1zM114 73h1v10h-1zM118 73h1v3h-1zM120 73h1v4h-1zM126 73h2v2h-2zM132 73h2v2h-2zM141 73h1v2h-1zM145 73h1v2h-1zM153 73h2v2h-2zM162 73h1v1h-1zM165 73h2v2h-2zM170 73h3v2h-3zM348 73h2v1h-2zM369 73h2v29h-2zM396 73h1v29h-1zM410 73h1v33h-1zM420 73h1v26h-1zM422 73h1v31h-1zM453 73h1v28h-1zM455 73h2v26h-2zM459 73h2v27h-2zM462 73h2v25h-2zM465 73h3v24h-3zM474 73h2v2h-2zM491 73h2v2h-2zM81 74h1v24h-1zM113 74h1v1h-1zM128 74h1v5h-1zM142 74h1v1h-1zM152 74h1v3h-1zM346 74h1v2h-1zM351 74h2v2h-2zM358 74h2v2h-2zM364 74h1v2h-1zM367 74h1v24h-1zM374 74h3v29h-3zM395 74h1v31h-1zM419 74h1v25h-1zM454 74h1v27h-1zM461 74h1v22h-1zM468 74h2v24h-2zM476 74h2v13h-2zM105 75h1v20h-1zM107 75h2v2h-2zM112 75h1v13h-1zM115 75h1v2h-1zM122 75h2v4h-2zM127 75h1v4h-1zM129 75h1v2h-1zM134 75h2v2h-2zM153 75h1v2h-1zM163 75h2v6h-2zM167 75h2v2h-2zM171 75h2v1h-2zM350 75h1v2h-1zM360 75h1v24h-1zM362 75h2v23h-2zM464 75h1v23h-1zM473 75h2v2h-2zM478 75h1v15h-1zM485 75h2v2h-2zM113 76h1v4h-1zM132 76h2v2h-2zM143 76h2v3h-2zM148 76h2v3h-2zM154 76h4v2h-4zM165 76h2v2h-2zM351 76h1v26h-1zM359 76h1v1h-1zM368 76h1v22h-1zM373 76h1v21h-1zM403 76h1v31h-1zM479 76h1v3h-1zM481 76h2v3h-2zM106 77h1v17h-1zM108 77h1v16h-1zM118 77h2v4h-2zM124 77h2v2h-2zM140 77h2v4h-2zM145 77h3v2h-3zM161 77h2v2h-2zM194 77h1v1h-1zM345 77h4v3h-4zM352 77h1v26h-1zM357 77h2v2h-2zM361 77h1v24h-1zM364 77h1v22h-1zM473 77h1v2h-1zM475 77h1v21h-1zM492 77h2v5h-2zM107 78h1v7h-1zM115 78h1v5h-1zM120 78h1v11h-1zM130 78h2v3h-2zM135 78h2v2h-2zM139 78h1v4h-1zM142 78h1v3h-1zM150 78h3v2h-3zM154 78h2v1h-2zM159 78h2v2h-2zM166 78h2v2h-2zM169 78h2v2h-2zM176 78h2v2h-2zM349 78h2v3h-2zM388 78h1v27h-1zM497 78h2v2h-2zM122 79h1v1h-1zM134 79h1v5h-1zM144 79h2v5h-2zM147 79h2v2h-2zM153 79h1v2h-1zM157 79h2v2h-2zM161 79h1v2h-1zM178 79h2v1h-2zM183 79h1v1h-1zM344 79h1v2h-1zM353 79h1v2h-1zM359 79h1v20h-1zM387 79h1v23h-1zM423 79h1v24h-1zM471 79h1v14h-1zM480 79h2v12h-2zM484 79h2v6h-2zM490 79h2v4h-2zM499 79h2v2h-2zM124 80h5v2h-5zM135 80h1v4h-1zM137 80h2v6h-2zM146 80h1v2h-1zM152 80h1v1h-1zM160 80h1v1h-1zM168 80h2v2h-2zM178 80h1v1h-1zM184 80h1v1h-1zM345 80h2v17h-2zM348 80h1v26h-1zM355 80h4v2h-4zM472 80h3v12h-3zM479 80h1v16h-1zM486 80h1v5h-1zM488 80h2v5h-2zM494 80h1v4h-1zM504 80h2v6h-2zM113 81h1v3h-1zM121 81h3v2h-3zM140 81h1v1h-1zM147 81h1v1h-1zM156 81h2v2h-2zM192 81h1v2h-1zM349 81h1v7h-1zM507 81h2v3h-2zM117 82h1v4h-1zM119 82h1v6h-1zM124 82h2v2h-2zM128 82h2v2h-2zM148 82h2v3h-2zM153 82h2v2h-2zM158 82h1v2h-1zM344 82h1v2h-1zM347 82h1v5h-1zM353 82h1v2h-1zM358 82h1v14h-1zM482 82h2v11h-2zM487 82h1v3h-1zM495 82h3v2h-3zM500 82h2v2h-2zM118 83h1v5h-1zM121 83h1v2h-1zM123 83h1v1h-1zM127 83h1v2h-1zM136 83h1v2h-1zM150 83h2v2h-2zM157 83h1v1h-1zM162 83h2v2h-2zM170 83h2v2h-2zM350 83h1v16h-1zM357 83h1v13h-1zM490 83h1v4h-1zM498 83h2v3h-2zM502 83h1v2h-1zM128 84h1v1h-1zM139 84h1v2h-1zM160 84h2v2h-2zM355 84h2v9h-2zM492 84h2v2h-2zM497 84h1v5h-1zM501 84h1v1h-1zM503 84h1v8h-1zM115 85h1v4h-1zM131 85h2v2h-2zM175 85h2v2h-2zM344 85h1v2h-1zM353 85h1v11h-1zM484 85h1v6h-1zM489 85h1v5h-1zM495 85h2v2h-2zM507 85h2v2h-2zM107 86h1v10h-1zM111 86h1v1h-1zM113 86h1v3h-1zM127 86h2v4h-2zM172 86h2v1h-2zM485 86h2v3h-2zM500 86h2v2h-2zM504 86h1v3h-1zM114 87h1v2h-1zM121 87h2v2h-2zM125 87h2v2h-2zM146 87h2v2h-2zM476 87h1v6h-1zM487 87h2v2h-2zM496 87h1v1h-1zM498 87h2v2h-2zM502 87h1v5h-1zM509 87h1v1h-1zM110 88h2v6h-2zM123 88h1v2h-1zM140 88h2v3h-2zM150 88h2v2h-2zM159 88h2v2h-2zM168 88h1v2h-1zM344 88h1v3h-1zM347 88h1v9h-1zM492 88h4v2h-4zM500 88h1v6h-1zM117 89h2v3h-2zM122 89h1v1h-1zM156 89h2v2h-2zM164 89h2v1h-2zM488 89h1v1h-1zM499 89h1v5h-1zM112 90h2v2h-2zM115 90h2v2h-2zM129 90h2v3h-2zM137 90h1v2h-1zM148 90h2v2h-2zM165 90h1v1h-1zM477 90h1v7h-1zM485 90h2v2h-2zM491 90h2v4h-2zM495 90h2v4h-2zM501 90h1v2h-1zM504 90h1v2h-1zM100 91h1v5h-1zM102 91h3v3h-3zM119 91h2v6h-2zM131 91h1v2h-1zM349 91h1v10h-1zM478 91h1v4h-1zM480 91h1v1h-1zM487 91h2v2h-2zM493 91h1v2h-1zM101 92h1v3h-1zM112 92h1v2h-1zM126 92h3v2h-3zM139 92h2v2h-2zM344 92h1v3h-1zM473 92h2v6h-2zM129 93h1v1h-1zM132 93h2v2h-2zM141 93h1v2h-1zM356 93h1v2h-1zM490 93h1v2h-1zM497 93h2v2h-2zM501 93h2v1h-2zM509 93h1v2h-1zM102 94h1v1h-1zM104 94h1v1h-1zM108 94h1v2h-1zM114 94h2v2h-2zM140 94h1v1h-1zM472 94h1v5h-1zM476 94h1v3h-1zM480 94h3v2h-3zM484 94h2v2h-2zM491 94h1v1h-1zM501 94h1v1h-1zM507 94h2v2h-2zM91 95h1v4h-1zM118 95h1v2h-1zM130 95h2v2h-2zM471 95h1v4h-1zM86 96h1v2h-1zM92 96h1v2h-1zM121 96h1v2h-1zM344 96h1v3h-1zM371 96h1v6h-1zM100 97h2v2h-2zM106 97h2v2h-2zM120 97h1v3h-1zM158 97h1v1h-1zM345 97h1v3h-1zM448 97h1v4h-1zM461 97h1v2h-1zM465 97h2v1h-2zM478 97h4v2h-4zM73 98h1v2h-1zM119 98h1v2h-1zM144 98h1v1h-1zM346 98h2v6h-2zM362 98h1v5h-1zM372 98h2v6h-2zM440 98h1v5h-1zM449 98h1v7h-1zM473 98h1v1h-1zM74 99h4v1h-4zM104 99h3v2h-3zM108 99h1v2h-1zM115 99h2v2h-2zM366 99h3v3h-3zM421 99h1v5h-1zM432 99h1v1h-1zM455 99h1v2h-1zM464 99h4v2h-4zM70 100h1v17h-1zM75 100h2v2h-2zM80 100h2v2h-2zM86 100h2v2h-2zM91 100h1v2h-1zM95 100h2v2h-2zM98 100h4v1h-4zM353 100h1v3h-1zM364 100h2v2h-2zM415 100h1v8h-1zM430 100h2v2h-2zM456 100h2v3h-2zM473 100h2v2h-2zM71 101h2v2h-2zM98 101h3v1h-3zM344 101h2v5h-2zM363 101h1v2h-1zM394 101h1v5h-1zM412 101h2v3h-2zM416 101h1v6h-1zM419 101h2v3h-2zM432 101h1v3h-1zM441 101h1v2h-1zM450 101h2v2h-2zM464 101h3v2h-3zM349 102h2v2h-2zM365 102h2v1h-2zM368 102h2v1h-2zM377 102h3v3h-3zM384 102h1v2h-1zM411 102h1v4h-1zM431 102h1v3h-1zM433 102h1v1h-1zM446 102h2v3h-2zM92 103h2v2h-2zM370 103h2v2h-2zM374 103h1v1h-1zM376 103h1v1h-1zM383 103h1v3h-1zM386 103h2v2h-2zM393 103h1v6h-1zM396 103h1v4h-1zM400 103h1v4h-1zM414 103h1v2h-1zM426 103h1v1h-1zM430 103h1v4h-1zM442 103h2v2h-2zM448 103h1v2h-1zM467 103h2v2h-2zM471 103h2v2h-2zM346 104h1v1h-1zM349 104h1v2h-1zM382 104h1v2h-1zM397 104h1v4h-1zM401 104h1v3h-1zM404 104h2v2h-2zM413 104h1v1h-1zM444 104h2v2h-2zM366 105h1v1h-1zM378 105h2v1h-2zM385 105h2v3h-2zM406 105h1v2h-1zM418 105h2v4h-2zM426 105h2v2h-2zM429 105h1v2h-1zM455 105h2v2h-2zM370 106h5v2h-5zM379 106h2v3h-2zM387 106h1v3h-1zM389 106h1v2h-1zM398 106h1v2h-1zM404 106h1v1h-1zM414 106h1v2h-1zM388 107h1v2h-1zM394 107h1v2h-1zM417 107h1v2h-1zM374 108h2v2h-2zM402 108h3v2h-3zM410 108h2v2h-2zM349 109h1v1h-1zM379 109h1v1h-1zM408 109h2v2h-2zM414 109h2v2h-2zM348 110h1v1h-1zM376 110h2v2h-2zM402 110h2v1h-2zM413 110h1v2h-1zM135 111h2v2h-2zM388 111h3v2h-3zM414 111h1v1h-1zM393 112h2v1h-2zM383 113h1v1h-1zM388 114h2v1h-2zM68 117h1v3h-1zM66 118h1v2h-1zM69 118h1v2h-1zM435 248h1v2h-1zM445 248h1v2h-1zM408 249h3v2h-3zM444 249h1v1h-1zM469 249h2v2h-2zM407 250h1v1h-1zM400 251h2v1h-2zM459 251h2v1h-2zM471 251h2v1h-2zM399 252h2v2h-2zM448 252h2v3h-2zM454 252h2v3h-2zM460 252h1v1h-1zM462 252h1v2h-1zM471 252h1v1h-1zM394 253h2v1h-2zM411 253h2v5h-2zM424 253h2v2h-2zM437 253h2v3h-2zM452 253h2v3h-2zM60 254h2v2h-2zM413 254h2v2h-2zM433 254h2v2h-2zM439 254h1v7h-1zM467 254h2v2h-2zM72 255h2v2h-2zM436 255h1v2h-1zM469 255h1v2h-1zM71 256h1v2h-1zM134 256h2v2h-2zM385 256h2v1h-2zM394 256h2v2h-2zM400 256h2v2h-2zM403 256h2v4h-2zM409 256h2v2h-2zM416 256h3v4h-3zM420 256h2v2h-2zM437 256h1v1h-1zM440 256h1v5h-1zM448 256h2v2h-2zM453 256h2v2h-2zM460 256h2v3h-2zM463 256h2v4h-2zM468 256h1v3h-1zM478 256h1v1h-1zM59 257h2v2h-2zM72 257h1v1h-1zM111 257h2v2h-2zM137 257h1v2h-1zM393 257h1v4h-1zM398 257h2v4h-2zM402 257h1v9h-1zM405 257h1v13h-1zM414 257h2v7h-2zM422 257h2v3h-2zM441 257h5v2h-5zM450 257h3v2h-3zM455 257h2v2h-2zM458 257h2v2h-2zM467 257h1v2h-1zM471 257h2v2h-2zM486 257h2v3h-2zM80 258h2v2h-2zM89 258h2v4h-2zM394 258h1v1h-1zM401 258h1v4h-1zM413 258h1v37h-1zM419 258h1v2h-1zM424 258h10v2h-10zM435 258h3v33h-3zM454 258h1v41h-1zM462 258h1v3h-1zM474 258h2v2h-2zM479 258h2v4h-2zM485 258h1v2h-1zM61 259h2v2h-2zM97 259h2v2h-2zM105 259h2v6h-2zM129 259h1v1h-1zM135 259h2v2h-2zM176 259h2v2h-2zM389 259h2v2h-2zM392 259h1v36h-1zM395 259h2v2h-2zM406 259h1v36h-1zM409 259h4v3h-4zM421 259h1v38h-1zM438 259h1v33h-1zM441 259h3v2h-3zM445 259h5v2h-5zM455 259h1v43h-1zM461 259h1v35h-1zM465 259h1v36h-1zM55 260h2v3h-2zM66 260h3v2h-3zM76 260h2v3h-2zM100 260h2v2h-2zM103 260h2v31h-2zM111 260h2v2h-2zM156 260h2v3h-2zM174 260h2v4h-2zM397 260h1v38h-1zM404 260h1v33h-1zM422 260h1v39h-1zM425 260h10v1h-10zM444 260h1v38h-1zM456 260h1v30h-1zM464 260h1v33h-1zM466 260h8v2h-8zM483 260h2v2h-2zM59 261h2v3h-2zM70 261h2v2h-2zM73 261h3v2h-3zM78 261h1v2h-1zM91 261h1v29h-1zM102 261h1v3h-1zM107 261h2v2h-2zM121 261h2v2h-2zM126 261h2v30h-2zM129 261h3v2h-3zM138 261h2v2h-2zM164 261h2v2h-2zM375 261h2v1h-2zM383 261h2v2h-2zM391 261h1v31h-1zM396 261h1v4h-1zM398 261h1v37h-1zM403 261h1v32h-1zM407 261h2v6h-2zM416 261h3v33h-3zM424 261h6v2h-6zM432 261h3v31h-3zM443 261h1v37h-1zM445 261h3v2h-3zM449 261h2v34h-2zM453 261h1v33h-1zM460 261h1v39h-1zM463 261h1v34h-1zM474 261h1v2h-1zM57 262h2v27h-2zM63 262h2v2h-2zM67 262h2v5h-2zM72 262h1v2h-1zM82 262h2v30h-2zM86 262h2v22h-2zM90 262h1v26h-1zM101 262h1v24h-1zM116 262h2v2h-2zM132 262h1v29h-1zM142 262h2v2h-2zM154 262h2v2h-2zM173 262h1v2h-1zM381 262h2v2h-2zM385 262h3v2h-3zM394 262h2v31h-2zM399 262h2v3h-2zM409 262h1v33h-1zM411 262h2v35h-2zM419 262h2v30h-2zM431 262h1v37h-1zM439 262h3v30h-3zM448 262h1v37h-1zM451 262h2v31h-2zM457 262h3v31h-3zM462 262h1v3h-1zM466 262h3v33h-3zM471 262h3v28h-3zM482 262h2v4h-2zM485 262h2v3h-2zM65 263h2v4h-2zM71 263h1v1h-1zM74 263h2v29h-2zM79 263h3v29h-3zM85 263h1v21h-1zM95 263h6v27h-6zM107 263h1v2h-1zM109 263h2v2h-2zM118 263h1v35h-1zM128 263h2v7h-2zM131 263h1v4h-1zM133 263h2v24h-2zM136 263h2v2h-2zM148 263h2v2h-2zM170 263h2v2h-2zM187 263h2v2h-2zM190 263h3v2h-3zM198 263h2v2h-2zM209 263h2v2h-2zM384 263h1v32h-1zM390 263h1v33h-1zM393 263h1v32h-1zM401 263h1v32h-1zM410 263h1v38h-1zM424 263h4v29h-4zM442 263h1v37h-1zM446 263h2v36h-2zM469 263h1v21h-1zM479 263h2v2h-2zM54 264h2v4h-2zM64 264h1v1h-1zM69 264h1v32h-1zM76 264h2v28h-2zM84 264h1v28h-1zM88 264h1v31h-1zM92 264h1v26h-1zM94 264h1v31h-1zM114 264h2v25h-2zM117 264h1v25h-1zM122 264h2v2h-2zM130 264h1v29h-1zM140 264h2v2h-2zM153 264h2v2h-2zM163 264h2v2h-2zM176 264h2v29h-2zM183 264h2v4h-2zM201 264h2v2h-2zM379 264h2v28h-2zM383 264h1v26h-1zM385 264h1v3h-1zM387 264h3v26h-3zM415 264h1v30h-1zM423 264h1v32h-1zM428 264h3v33h-3zM445 264h1v34h-1zM470 264h1v30h-1zM477 264h2v2h-2zM487 264h2v2h-2zM490 264h4v2h-4zM513 264h1v2h-1zM53 265h1v16h-1zM70 265h4v20h-4zM78 265h1v29h-1zM89 265h1v29h-1zM102 265h1v22h-1zM105 265h1v27h-1zM108 265h2v22h-2zM116 265h1v29h-1zM119 265h1v25h-1zM135 265h1v4h-1zM139 265h1v29h-1zM144 265h4v4h-4zM150 265h3v21h-3zM155 265h2v2h-2zM173 265h2v5h-2zM179 265h2v2h-2zM185 265h1v25h-1zM192 265h2v2h-2zM203 265h4v2h-4zM220 265h1v3h-1zM381 265h2v25h-2zM386 265h1v29h-1zM400 265h1v30h-1zM414 265h1v30h-1zM475 265h2v4h-2zM495 265h2v2h-2zM56 266h1v21h-1zM59 266h6v16h-6zM93 266h1v23h-1zM106 266h1v26h-1zM111 266h3v27h-3zM120 266h2v25h-2zM140 266h1v29h-1zM142 266h2v18h-2zM153 266h1v1h-1zM157 266h4v4h-4zM168 266h3v25h-3zM172 266h1v27h-1zM175 266h1v27h-1zM178 266h1v30h-1zM182 266h1v2h-1zM186 266h4v26h-4zM219 266h1v2h-1zM221 266h1v1h-1zM372 266h6v3h-6zM396 266h1v27h-1zM462 266h1v29h-1zM479 266h2v2h-2zM483 266h2v4h-2zM68 267h1v25h-1zM107 267h1v23h-1zM122 267h4v22h-4zM136 267h3v2h-3zM141 267h1v25h-1zM148 267h2v4h-2zM156 267h1v21h-1zM161 267h3v20h-3zM167 267h1v24h-1zM197 267h4v3h-4zM205 267h11v2h-11zM369 267h3v22h-3zM399 267h1v31h-1zM402 267h1v33h-1zM407 267h1v28h-1zM474 267h1v25h-1zM502 267h2v3h-2zM521 267h1v2h-1zM54 268h1v23h-1zM65 268h3v23h-3zM110 268h1v25h-1zM131 268h1v25h-1zM153 268h3v21h-3zM164 268h2v28h-2zM171 268h1v26h-1zM179 268h2v2h-2zM184 268h1v1h-1zM190 268h4v5h-4zM224 268h1v1h-1zM378 268h1v21h-1zM385 268h1v27h-1zM408 268h1v27h-1zM478 268h2v2h-2zM481 268h2v5h-2zM485 268h1v2h-1zM520 268h1v1h-1zM55 269h1v18h-1zM137 269h2v25h-2zM144 269h2v22h-2zM147 269h1v25h-1zM166 269h1v26h-1zM196 269h1v22h-1zM204 269h2v23h-2zM207 269h4v2h-4zM213 269h2v3h-2zM221 269h2v2h-2zM372 269h4v22h-4zM377 269h1v22h-1zM475 269h1v25h-1zM480 269h1v2h-1zM487 269h2v2h-2zM523 269h2v4h-2zM528 269h1v3h-1zM129 270h1v22h-1zM135 270h2v22h-2zM146 270h1v24h-1zM157 270h2v20h-2zM160 270h1v23h-1zM173 270h1v25h-1zM180 270h5v13h-5zM194 270h2v2h-2zM197 270h2v16h-2zM201 270h2v26h-2zM211 270h2v14h-2zM361 270h2v2h-2zM376 270h1v21h-1zM483 270h1v4h-1zM486 270h1v2h-1zM495 270h2v2h-2zM508 270h3v2h-3zM520 270h2v2h-2zM529 270h1v2h-1zM149 271h1v21h-1zM159 271h1v19h-1zM174 271h1v24h-1zM199 271h2v25h-2zM203 271h1v25h-1zM207 271h3v21h-3zM220 271h2v2h-2zM368 271h1v19h-1zM405 271h1v21h-1zM476 271h1v12h-1zM484 271h1v3h-1zM487 271h1v1h-1zM490 271h2v2h-2zM494 271h1v4h-1zM511 271h1v1h-1zM525 271h1v4h-1zM128 272h1v19h-1zM148 272h1v19h-1zM179 272h1v24h-1zM194 272h1v15h-1zM206 272h1v16h-1zM216 272h2v2h-2zM364 272h4v17h-4zM477 272h2v10h-2zM492 272h1v2h-1zM495 272h1v3h-1zM500 272h2v2h-2zM508 272h2v3h-2zM516 272h2v2h-2zM190 273h2v21h-2zM193 273h1v24h-1zM195 273h1v20h-1zM210 273h1v19h-1zM214 273h2v8h-2zM223 273h3v2h-3zM360 273h2v13h-2zM479 273h2v11h-2zM482 273h1v1h-1zM491 273h1v1h-1zM496 273h2v2h-2zM524 273h1v2h-1zM192 274h1v22h-1zM217 274h2v4h-2zM222 274h1v2h-1zM362 274h2v14h-2zM481 274h1v11h-1zM485 274h3v2h-3zM518 274h2v2h-2zM213 275h1v17h-1zM216 275h1v11h-1zM223 275h1v3h-1zM482 275h1v11h-1zM492 275h2v4h-2zM515 275h2v2h-2zM219 276h3v2h-3zM224 276h2v4h-2zM227 276h2v4h-2zM234 276h2v3h-2zM347 276h1v2h-1zM357 276h2v2h-2zM483 276h2v2h-2zM487 276h4v2h-4zM499 276h2v2h-2zM503 276h2v2h-2zM513 276h2v3h-2zM520 276h1v2h-1zM233 277h1v7h-1zM486 277h1v2h-1zM505 277h2v2h-2zM219 278h2v8h-2zM226 278h1v7h-1zM230 278h2v2h-2zM236 278h1v2h-1zM240 278h2v6h-2zM248 278h2v2h-2zM358 278h2v9h-2zM483 278h1v3h-1zM487 278h3v1h-3zM494 278h2v2h-2zM509 278h2v4h-2zM515 278h2v2h-2zM217 279h1v3h-1zM221 279h2v2h-2zM232 279h1v5h-1zM235 279h1v1h-1zM243 279h2v2h-2zM484 279h1v4h-1zM488 279h2v1h-2zM504 279h2v2h-2zM508 279h1v3h-1zM514 279h1v1h-1zM218 280h1v7h-1zM225 280h1v2h-1zM239 280h1v6h-1zM253 280h2v2h-2zM356 280h2v7h-2zM485 280h3v3h-3zM495 280h2v5h-2zM511 280h1v2h-1zM516 280h2v2h-2zM215 281h1v5h-1zM221 281h1v12h-1zM227 281h3v3h-3zM245 281h2v2h-2zM498 281h2v2h-2zM53 282h1v8h-1zM59 282h4v4h-4zM64 282h1v7h-1zM235 282h2v3h-2zM238 282h1v4h-1zM242 282h3v2h-3zM257 282h2v2h-2zM355 282h1v2h-1zM477 282h1v1h-1zM483 282h1v4h-1zM523 282h2v2h-2zM63 283h1v6h-1zM181 283h4v8h-4zM214 283h1v10h-1zM224 283h2v2h-2zM478 283h1v8h-1zM486 283h2v1h-2zM87 284h1v11h-1zM143 284h1v8h-1zM180 284h1v9h-1zM212 284h1v1h-1zM222 284h2v2h-2zM227 284h1v1h-1zM237 284h1v2h-1zM240 284h1v2h-1zM242 284h2v1h-2zM246 284h2v2h-2zM253 284h3v2h-3zM476 284h2v3h-2zM479 284h1v6h-1zM484 284h2v4h-2zM70 285h2v6h-2zM85 285h2v7h-2zM142 285h1v7h-1zM211 285h1v9h-1zM217 285h1v2h-1zM224 285h1v7h-1zM245 285h1v2h-1zM480 285h1v2h-1zM488 285h2v2h-2zM496 285h2v2h-2zM511 285h1v2h-1zM516 285h2v2h-2zM59 286h2v1h-2zM62 286h1v5h-1zM73 286h1v2h-1zM150 286h1v1h-1zM152 286h1v6h-1zM198 286h1v5h-1zM220 286h1v5h-1zM223 286h1v3h-1zM229 286h2v2h-2zM246 286h1v1h-1zM361 286h1v2h-1zM469 286h1v8h-1zM510 286h1v1h-1zM518 286h1v1h-1zM59 287h1v8h-1zM72 287h1v6h-1zM101 287h1v9h-1zM134 287h1v6h-1zM161 287h2v1h-2zM197 287h1v4h-1zM219 287h1v3h-1zM222 287h1v2h-1zM225 287h2v2h-2zM235 287h4v2h-4zM248 287h2v2h-2zM477 287h1v5h-1zM487 287h2v2h-2zM497 287h2v2h-2zM504 287h2v1h-2zM60 288h2v4h-2zM102 288h1v6h-1zM108 288h2v2h-2zM133 288h1v3h-1zM150 288h2v3h-2zM161 288h1v10h-1zM163 288h1v8h-1zM194 288h1v9h-1zM215 288h2v2h-2zM218 288h1v2h-1zM241 288h4v2h-4zM348 288h2v1h-2zM363 288h1v1h-1zM483 288h2v2h-2zM499 288h1v3h-1zM55 289h2v2h-2zM73 289h1v4h-1zM90 289h1v6h-1zM115 289h1v5h-1zM123 289h3v4h-3zM154 289h2v2h-2zM162 289h1v5h-1zM206 289h1v2h-1zM225 289h1v1h-1zM236 289h2v3h-2zM247 289h2v2h-2zM250 289h2v2h-2zM253 289h2v2h-2zM346 289h1v2h-1zM369 289h1v1h-1zM371 289h1v2h-1zM498 289h1v1h-1zM500 289h1v2h-1zM57 290h2v5h-2zM63 290h2v4h-2zM93 290h1v5h-1zM95 290h4v2h-4zM109 290h1v1h-1zM117 290h1v4h-1zM122 290h1v2h-1zM153 290h1v2h-1zM156 290h1v4h-1zM212 290h1v7h-1zM223 290h1v2h-1zM243 290h4v1h-4zM255 290h2v1h-2zM378 290h1v2h-1zM381 290h1v1h-1zM388 290h2v3h-2zM472 290h2v4h-2zM476 290h1v4h-1zM56 291h1v1h-1zM65 291h2v3h-2zM71 291h1v2h-1zM91 291h2v6h-2zM99 291h2v4h-2zM104 291h1v1h-1zM119 291h1v6h-1zM121 291h1v3h-1zM126 291h1v1h-1zM145 291h1v5h-1zM150 291h1v1h-1zM155 291h1v3h-1zM157 291h3v3h-3zM169 291h2v1h-2zM181 291h2v2h-2zM215 291h1v2h-1zM222 291h1v4h-1zM245 291h2v1h-2zM255 291h1v1h-1zM366 291h4v2h-4zM373 291h3v2h-3zM387 291h1v3h-1zM437 291h1v1h-1zM456 291h1v4h-1zM480 291h2v3h-2zM497 291h1v2h-1zM60 292h1v3h-1zM62 292h1v2h-1zM67 292h1v4h-1zM70 292h1v5h-1zM74 292h1v1h-1zM77 292h1v4h-1zM80 292h2v4h-2zM86 292h1v1h-1zM95 292h1v1h-1zM97 292h2v1h-2zM114 292h1v5h-1zM120 292h1v3h-1zM132 292h2v2h-2zM135 292h1v1h-1zM148 292h1v4h-1zM167 292h1v3h-1zM170 292h1v2h-1zM183 292h2v3h-2zM186 292h2v1h-2zM189 292h1v3h-1zM196 292h2v3h-2zM204 292h1v3h-1zM206 292h2v2h-2zM229 292h2v2h-2zM240 292h2v1h-2zM249 292h2v1h-2zM347 292h2v1h-2zM376 292h1v3h-1zM383 292h1v2h-1zM420 292h1v1h-1zM425 292h3v2h-3zM432 292h2v3h-2zM440 292h2v1h-2zM471 292h1v2h-1zM482 292h1v2h-1zM55 293h2v2h-2zM68 293h1v3h-1zM98 293h1v2h-1zM113 293h1v3h-1zM124 293h2v3h-2zM136 293h1v2h-1zM141 293h2v2h-2zM150 293h2v5h-2zM168 293h2v2h-2zM188 293h1v4h-1zM205 293h1v2h-1zM208 293h2v3h-2zM213 293h1v2h-1zM216 293h2v4h-2zM223 293h2v2h-2zM241 293h1v1h-1zM249 293h1v1h-1zM368 293h3v1h-3zM374 293h2v1h-2zM377 293h1v2h-1zM381 293h2v2h-2zM389 293h1v1h-1zM394 293h1v8h-1zM405 293h1v7h-1zM434 293h1v2h-1zM436 293h2v3h-2zM452 293h1v1h-1zM457 293h1v1h-1zM459 293h1v4h-1zM479 293h1v2h-1zM66 294h1v2h-1zM71 294h3v2h-3zM76 294h1v3h-1zM82 294h1v3h-1zM85 294h2v2h-2zM96 294h2v2h-2zM106 294h2v2h-2zM112 294h1v2h-1zM137 294h1v1h-1zM143 294h2v2h-2zM149 294h1v4h-1zM159 294h2v2h-2zM175 294h2v2h-2zM181 294h2v4h-2zM191 294h1v2h-1zM198 294h1v2h-1zM369 294h2v1h-2zM375 294h1v1h-1zM391 294h1v2h-1zM395 294h2v3h-2zM403 294h1v6h-1zM417 294h2v3h-2zM424 294h1v3h-1zM426 294h2v2h-2zM439 294h3v2h-3zM480 294h1v1h-1zM487 294h1v2h-1zM61 295h2v2h-2zM75 295h1v3h-1zM83 295h1v2h-1zM100 295h1v3h-1zM110 295h2v3h-2zM115 295h1v2h-1zM126 295h2v2h-2zM134 295h2v3h-2zM142 295h1v1h-1zM152 295h1v2h-1zM170 295h2v2h-2zM185 295h3v2h-3zM210 295h2v3h-2zM404 295h1v4h-1zM416 295h1v2h-1zM419 295h2v2h-2zM425 295h1v4h-1zM435 295h1v2h-1zM438 295h1v4h-1zM449 295h1v4h-1zM458 295h1v2h-1zM461 295h1v4h-1zM467 295h3v1h-3zM486 295h1v1h-1zM71 296h1v1h-1zM74 296h1v2h-1zM98 296h2v2h-2zM102 296h3v2h-3zM108 296h2v3h-2zM117 296h1v2h-1zM154 296h4v2h-4zM160 296h1v2h-1zM195 296h2v2h-2zM200 296h2v1h-2zM209 296h1v3h-1zM230 296h2v2h-2zM373 296h2v2h-2zM401 296h1v4h-1zM406 296h1v7h-1zM413 296h1v2h-1zM432 296h2v2h-2zM436 296h1v1h-1zM439 296h2v2h-2zM450 296h2v2h-2zM468 296h2v1h-2zM472 296h2v2h-2zM112 297h1v2h-1zM120 297h2v2h-2zM123 297h2v2h-2zM128 297h2v2h-2zM147 297h2v2h-2zM158 297h2v2h-2zM169 297h2v2h-2zM172 297h2v3h-2zM178 297h2v2h-2zM205 297h2v2h-2zM208 297h1v2h-1zM391 297h3v2h-3zM396 297h1v1h-1zM400 297h1v5h-1zM409 297h1v4h-1zM412 297h1v1h-1zM418 297h2v1h-2zM423 297h1v2h-1zM426 297h1v3h-1zM462 297h2v2h-2zM85 298h4v2h-4zM111 298h1v1h-1zM126 298h2v2h-2zM154 298h2v1h-2zM174 298h1v2h-1zM196 298h2v2h-2zM395 298h1v3h-1zM427 298h1v2h-1zM432 298h1v1h-1zM439 298h1v1h-1zM441 298h1v2h-1zM456 298h1v4h-1zM459 298h1v3h-1zM471 298h2v2h-2zM198 299h2v2h-2zM396 299h2v3h-2zM399 299h1v3h-1zM407 299h2v2h-2zM420 299h2v2h-2zM435 299h2v2h-2zM443 299h2v2h-2zM452 299h2v2h-2zM458 299h1v2h-1zM463 299h2v2h-2zM85 300h2v2h-2zM113 300h2v2h-2zM123 300h2v2h-2zM150 300h2v2h-2zM211 300h2v2h-2zM417 300h2v2h-2zM434 300h1v3h-1zM454 300h1v3h-1zM470 300h1v2h-1zM74 301h2v2h-2zM77 301h2v2h-2zM91 301h1v2h-1zM146 301h2v1h-2zM405 301h1v2h-1zM407 301h1v1h-1zM433 301h1v2h-1zM435 301h1v1h-1zM453 301h1v3h-1zM478 301h1v2h-1zM445 302h2v2h-2zM452 302h1v2h-1zM461 302h2v2h-2zM464 302h1v1h-1zM477 302h1v2h-1zM152 303h1v2h-1zM411 303h2v1h-2zM459 303h2v2h-2zM412 304h1v1h-1zM460 305h1v1h-1zM421 306h2v2h-2z" fill="#7b7bf7"/><path d="M378 52h2v2h-2zM160 53h2v2h-2zM215 55h2v2h-2zM163 57h1v2h-1zM136 58h1v2h-1zM120 59h2v1h-2zM389 59h2v2h-2zM398 59h2v2h-2zM93 61h1v2h-1zM200 61h2v2h-2zM222 63h1v2h-1zM403 63h1v1h-1zM146 65h1v1h-1zM166 65h1v1h-1zM181 67h2v2h-2zM217 68h1v2h-1zM168 70h2v2h-2zM344 70h2v2h-2zM349 71h2v1h-2zM216 73h2v2h-2zM243 74h2v2h-2zM345 74h1v2h-1zM193 76h2v1h-2zM193 77h1v1h-1zM182 78h2v1h-2zM198 78h2v2h-2zM182 79h1v1h-1zM179 80h1v1h-1zM185 80h1v2h-1zM184 81h1v1h-1zM191 81h1v2h-1zM205 85h2v2h-2zM193 86h2v2h-2zM172 87h2v1h-2zM510 87h1v2h-1zM169 88h1v2h-1zM186 88h2v2h-2zM509 88h1v1h-1zM233 89h2v2h-2zM136 90h1v2h-1zM164 90h1v1h-1zM506 90h2v2h-2zM178 93h2v2h-2zM510 93h1v2h-1zM502 94h1v1h-1zM184 96h2v2h-2zM159 97h1v2h-1zM145 98h1v2h-1zM158 98h1v1h-1zM491 98h2v2h-2zM109 99h1v2h-1zM144 99h1v1h-1zM505 100h2v2h-2zM101 101h1v1h-1zM363 105h2v2h-2zM367 105h1v2h-1zM366 106h1v1h-1zM349 108h2v1h-2zM350 109h1v1h-1zM380 109h1v1h-1zM347 110h1v2h-1zM134 111h1v2h-1zM137 111h1v2h-1zM348 111h1v1h-1zM382 113h1v2h-1zM393 113h2v1h-2zM383 114h1v1h-1zM169 115h2v2h-2zM388 115h2v1h-2zM349 122h2v2h-2zM163 230h2v2h-2zM96 237h2v2h-2zM455 244h2v2h-2zM459 247h2v2h-2zM436 248h1v2h-1zM444 248h1v1h-1zM452 248h2v2h-2zM407 249h1v1h-1zM400 250h2v1h-2zM394 252h2v1h-2zM459 252h1v1h-1zM463 252h1v2h-1zM472 252h1v1h-1zM67 254h2v2h-2zM385 255h2v1h-2zM477 255h2v1h-2zM97 256h2v2h-2zM477 256h1v1h-1zM138 257h1v2h-1zM129 258h2v1h-2zM130 259h1v1h-1zM510 259h2v2h-2zM375 260h2v1h-2zM514 264h1v2h-1zM221 265h1v1h-1zM224 267h2v1h-2zM520 267h1v1h-1zM225 268h1v1h-1zM529 269h1v1h-1zM511 270h1v1h-1zM250 273h2v2h-2zM346 276h1v2h-1zM521 276h1v2h-1zM505 285h2v2h-2zM510 285h1v1h-1zM504 286h1v1h-1zM348 287h2v1h-2zM517 287h2v1h-2zM525 287h2v2h-2zM345 289h1v2h-1zM515 290h2v2h-2zM256 291h1v1h-1zM496 291h1v2h-1zM240 293h1v1h-1zM250 293h1v1h-1zM347 293h2v2h-2zM486 294h1v1h-1zM480 296h2v2h-2zM56 297h2v2h-2zM324 299h2v2h-2zM469 300h1v2h-1zM92 301h1v2h-1zM479 301h1v2h-1zM146 302h2v1h-2zM465 302h1v2h-1zM476 302h1v2h-1zM96 303h2v2h-2zM153 303h1v2h-1zM329 303h2v2h-2zM346 303h2v2h-2zM464 303h1v1h-1zM411 304h1v1h-1zM459 305h1v1h-1zM232 306h2v2h-2zM434 306h2v2h-2zM455 306h2v2h-2zM130 313h2v2h-2z" fill="#6060f2"/><line x1="66.4" y1="87.1" x2="259.5" y2="69.2" stroke="#ff0000" stroke-width="2.4"/><line x1="66.4" y1="87.5" x2="259.5" y2="68" stroke="#0000ff" stroke-width="2.4"/><line x1="343.8" y1="89.6" x2="511.2" y2="83" stroke="#ff0000" stroke-width="2.4"/><line x1="343.8" y1="89.7" x2="511.2" y2="82.2" stroke="#0000ff" stroke-width="2.4"/><line x1="51.3" y1="276.7" x2="259.4" y2="286" stroke="#ff0000" stroke-width="2.4"/><line x1="51.3" y1="277.4" x2="259.4" y2="284.5" stroke="#0000ff" stroke-width="2.4"/><line x1="317.5" y1="283.8" x2="530.8" y2="272.7" stroke="#ff0000" stroke-width="2.4"/><line x1="317.5" y1="283.6" x2="530.8" y2="273.9" stroke="#0000ff" stroke-width="2.4"/><text x="152.5" y="18.8" font-family="Liberation Sans, sans-serif" font-size="11.5" font-weight="bold" text-anchor="middle" fill="#000" stroke="#000" stroke-width="0.15">(a) Normalized 2 µm band radiance</text><text x="424" y="18.8" font-family="Liberation Sans, sans-serif" font-size="11.5" font-weight="bold" text-anchor="middle" fill="#000" stroke="#000" stroke-width="0.15">(b) Difference in surface albedo</text><text x="153" y="210.6" font-family="Liberation Sans, sans-serif" font-size="11.5" font-weight="bold" text-anchor="middle" fill="#000" stroke="#000" stroke-width="0.15">(c) Airmass</text><text x="424.4" y="210.4" font-family="Liberation Sans, sans-serif" font-size="11.5" font-weight="bold" text-anchor="middle" fill="#000" stroke="#000" stroke-width="0.15">(d) Ratio of partial column CH<tspan font-size="8" dy="2.5">4</tspan></text><text x="41" y="146.5" font-family="Liberation Sans, sans-serif" class="r" font-size="10.2" text-anchor="end" fill="#000">-4</text><text x="41" y="121.2" font-family="Liberation Sans, sans-serif" class="r" font-size="10.2" text-anchor="end" fill="#000">-2</text><text x="41" y="96" font-family="Liberation Sans, sans-serif" class="r" font-size="10.2" text-anchor="end" fill="#000">0</text><text x="41" y="70.8" font-family="Liberation Sans, sans-serif" class="r" font-size="10.2" text-anchor="end" fill="#000">2</text><text x="41" y="45.5" font-family="Liberation Sans, sans-serif" class="r" font-size="10.2" text-anchor="end" fill="#000">4</text><text x="312.8" y="146.3" font-family="Liberation Sans, sans-serif" class="r" font-size="10.2" text-anchor="end" fill="#000">-4</text><text x="312.8" y="121.1" font-family="Liberation Sans, sans-serif" class="r" font-size="10.2" text-anchor="end" fill="#000">-2</text><text x="312.8" y="95.9" font-family="Liberation Sans, sans-serif" class="r" font-size="10.2" text-anchor="end" fill="#000">0</text><text x="312.8" y="70.7" font-family="Liberation Sans, sans-serif" class="r" font-size="10.2" text-anchor="end" fill="#000">2</text><text x="312.8" y="45.5" font-family="Liberation Sans, sans-serif" class="r" font-size="10.2" text-anchor="end" fill="#000">4</text><text x="41.3" y="338.2" font-family="Liberation Sans, sans-serif" class="r" font-size="10.2" text-anchor="end" fill="#000">-4</text><text x="41.3" y="313.1" font-family="Liberation Sans, sans-serif" class="r" font-size="10.2" text-anchor="end" fill="#000">-2</text><text x="41.3" y="288" font-family="Liberation Sans, sans-serif" class="r" font-size="10.2" text-anchor="end" fill="#000">0</text><text x="41.3" y="262.9" font-family="Liberation Sans, sans-serif" class="r" font-size="10.2" text-anchor="end" fill="#000">2</text><text x="41.3" y="237.8" font-family="Liberation Sans, sans-serif" class="r" font-size="10.2" text-anchor="end" fill="#000">4</text><text x="312.8" y="338.4" font-family="Liberation Sans, sans-serif" class="r" font-size="10.2" text-anchor="end" fill="#000">-4</text><text x="312.8" y="313.3" font-family="Liberation Sans, sans-serif" class="r" font-size="10.2" text-anchor="end" fill="#000">-2</text><text x="312.8" y="288.1" font-family="Liberation Sans, sans-serif" class="r" font-size="10.2" text-anchor="end" fill="#000">0</text><text x="312.8" y="262.9" font-family="Liberation Sans, sans-serif" class="r" font-size="10.2" text-anchor="end" fill="#000">2</text><text x="312.8" y="237.8" font-family="Liberation Sans, sans-serif" class="r" font-size="10.2" text-anchor="end" fill="#000">4</text><text x="69.3" y="167.6" font-family="Liberation Sans, sans-serif" class="r" font-size="10.2" text-anchor="middle" fill="#000">0</text><text x="164.4" y="167.6" font-family="Liberation Sans, sans-serif" class="r" font-size="10.2" text-anchor="middle" fill="#000">20</text><text x="259.5" y="167.6" font-family="Liberation Sans, sans-serif" class="r" font-size="10.2" text-anchor="middle" fill="#000">40</text><text x="352" y="167.4" font-family="Liberation Sans, sans-serif" class="r" font-size="10.2" text-anchor="middle" fill="#000">0</text><text x="423.1" y="167.4" font-family="Liberation Sans, sans-serif" class="r" font-size="10.2" text-anchor="middle" fill="#000">0.01</text><text x="493.7" y="167.4" font-family="Liberation Sans, sans-serif" class="r" font-size="10.2" text-anchor="middle" fill="#000">0.02</text><text x="46" y="360.5" font-family="Liberation Sans, sans-serif" class="r" font-size="10.2" text-anchor="middle" fill="#000">2</text><text x="152.7" y="360.5" font-family="Liberation Sans, sans-serif" class="r" font-size="10.2" text-anchor="middle" fill="#000">3</text><text x="258.7" y="360.5" font-family="Liberation Sans, sans-serif" class="r" font-size="10.2" text-anchor="middle" fill="#000">4</text><text x="317.5" y="360.5" font-family="Liberation Sans, sans-serif" class="r" font-size="10.2" text-anchor="middle" fill="#000">0.9</text><text x="408.9" y="360.5" font-family="Liberation Sans, sans-serif" class="r" font-size="10.2" text-anchor="middle" fill="#000">1.2</text><text x="500.3" y="360.5" font-family="Liberation Sans, sans-serif" class="r" font-size="10.2" text-anchor="middle" fill="#000">1.5</text><text x="152.5" y="184" font-family="Liberation Sans, sans-serif" class="r" font-size="10.2" text-anchor="middle" fill="#000">I<tspan font-size="7" dy="2.2">2µm</tspan><tspan dy="-2.2"> [-]</tspan></text><text x="423" y="184" font-family="Liberation Sans, sans-serif" class="r" font-size="10.2" text-anchor="middle" fill="#000">Δ<tspan font-size="7" dy="2.2">alb</tspan><tspan dy="-2.2"> [-]</tspan></text><text x="152.7" y="376.8" font-family="Liberation Sans, sans-serif" class="r" font-size="10.2" text-anchor="middle" fill="#000">Airmass [-]</text><text x="423" y="376.8" font-family="Liberation Sans, sans-serif" class="r" font-size="10.2" text-anchor="middle" fill="#000">R<tspan font-size="7" dy="2.2">CH4</tspan><tspan dy="-2.2"> [-]</tspan></text><text transform="translate(20.3 89.4) rotate(-90)" x="0" y="0" font-family="Liberation Sans, sans-serif" class="r" font-size="10.2" text-anchor="middle" fill="#000">Δ<tspan font-size="7" dy="2.2">ratio</tspan><tspan dy="-2.2"> [%]</tspan></text><text transform="translate(292.3 89.4) rotate(-90)" x="0" y="0" font-family="Liberation Sans, sans-serif" class="r" font-size="10.2" text-anchor="middle" fill="#000">Δ<tspan font-size="7" dy="2.2">ratio</tspan><tspan dy="-2.2"> [%]</tspan></text><text transform="translate(20.3 281.5) rotate(-90)" x="0" y="0" font-family="Liberation Sans, sans-serif" class="r" font-size="10.2" text-anchor="middle" fill="#000">Δ<tspan font-size="7" dy="2.2">ratio</tspan><tspan dy="-2.2"> [%]</tspan></text><text transform="translate(292.3 281.5) rotate(-90)" x="0" y="0" font-family="Liberation Sans, sans-serif" class="r" font-size="10.2" text-anchor="middle" fill="#000">Δ<tspan font-size="7" dy="2.2">ratio</tspan><tspan dy="-2.2"> [%]</tspan></text><line x1="162" y1="35.8" x2="173.2" y2="35.8" stroke="#0000ff" stroke-width="2"/><line x1="162" y1="45.9" x2="173.2" y2="45.9" stroke="#ff0000" stroke-width="2"/><text y="38" font-family="Liberation Serif, serif" font-size="10" fill="#2828f0" stroke="#2828f0" stroke-width="0.3"><tspan x="176.2" font-style="italic">y</tspan><tspan x="185.3">=</tspan><tspan x="195.8">0.038</tspan><tspan x="218.2" font-style="italic">x</tspan><tspan x="228.9">+</tspan><tspan x="237.9">0.41</tspan></text><text y="48.2" font-family="Liberation Serif, serif" font-size="10" fill="#f02828" stroke="#f02828" stroke-width="0.3"><tspan x="176.2" font-style="italic">y</tspan><tspan x="185.3">=</tspan><tspan x="195.8">0.035</tspan><tspan x="218.2" font-style="italic">x</tspan><tspan x="228.9">+</tspan><tspan x="237.9">0.44</tspan></text><line x1="433.4" y1="35" x2="444.5" y2="35" stroke="#0000ff" stroke-width="2"/><line x1="433.4" y1="45.3" x2="444.5" y2="45.3" stroke="#ff0000" stroke-width="2"/><text y="37.6" font-family="Liberation Serif, serif" font-size="10" fill="#2828f0" stroke="#2828f0" stroke-width="0.3"><tspan x="447.5" font-style="italic">y</tspan><tspan x="456.7">=</tspan><tspan x="467.3">25.24</tspan><tspan x="489.9" font-style="italic">x</tspan><tspan x="500.6">+</tspan><tspan x="509.8">0.24</tspan></text><text y="48" font-family="Liberation Serif, serif" font-size="10" fill="#f02828" stroke="#f02828" stroke-width="0.3"><tspan x="447.5" font-style="italic">y</tspan><tspan x="456.7">=</tspan><tspan x="467.3">22.61</tspan><tspan x="489.9" font-style="italic">x</tspan><tspan x="500.6">+</tspan><tspan x="509.8">0.24</tspan></text><line x1="161" y1="227.7" x2="171.8" y2="227.7" stroke="#0000ff" stroke-width="2"/><line x1="161" y1="237.7" x2="171.8" y2="237.7" stroke="#ff0000" stroke-width="2"/><text y="230.6" font-family="Liberation Serif, serif" font-size="10" fill="#2828f0" stroke="#2828f0" stroke-width="0.3"><tspan x="174" font-style="italic">y</tspan><tspan x="183.3">=</tspan><tspan x="194.0">−0.29</tspan><tspan x="217.5" font-style="italic">x</tspan><tspan x="228.4">+</tspan><tspan x="237.6">1.15</tspan></text><text y="240.4" font-family="Liberation Serif, serif" font-size="10" fill="#f02828" stroke="#f02828" stroke-width="0.3"><tspan x="174" font-style="italic">y</tspan><tspan x="183.3">=</tspan><tspan x="194.0">−0.38</tspan><tspan x="217.5" font-style="italic">x</tspan><tspan x="228.4">+</tspan><tspan x="237.6">1.39</tspan></text><line x1="437.3" y1="228.6" x2="448.9" y2="228.6" stroke="#0000ff" stroke-width="2"/><line x1="437.3" y1="238.6" x2="448.9" y2="238.6" stroke="#ff0000" stroke-width="2"/><text y="231.2" font-family="Liberation Serif, serif" font-size="10" fill="#2828f0" stroke="#2828f0" stroke-width="0.3"><tspan x="454.4" font-style="italic">y</tspan><tspan x="463.6">=</tspan><tspan x="474.2">1.11</tspan><tspan x="491.4" font-style="italic">x</tspan><tspan x="502.1">−</tspan><tspan x="511.2">0.93</tspan></text><text y="241.2" font-family="Liberation Serif, serif" font-size="10" fill="#f02828" stroke="#f02828" stroke-width="0.3"><tspan x="454.4" font-style="italic">y</tspan><tspan x="463.6">=</tspan><tspan x="474.1">1.26</tspan><tspan x="491.5" font-style="italic">x</tspan><tspan x="502.2">−</tspan><tspan x="511.3">1.08</tspan></text><rect x="161" y="396" width="8" height="8" fill="#f46d64"/><text x="173" y="403.8" font-family="Liberation Sans, sans-serif" class="r" font-size="10" fill="#000">Matching criteria</text><text x="251.9" y="403.9" font-family="Liberation Sans, sans-serif" class="r" font-size="13" fill="#000">±</text><text x="260.6" y="403.9" font-family="Liberation Sans, sans-serif" class="r" font-size="10.2" fill="#000">2°</text><rect x="291.7" y="396" width="7.6" height="7.8" fill="#5c5cf6"/><text x="303.4" y="403.8" font-family="Liberation Sans, sans-serif" class="r" font-size="10" fill="#000">Matching criteria</text><text x="380.3" y="403.9" font-family="Liberation Sans, sans-serif" class="r" font-size="13" fill="#000">±</text><text x="388.4" y="403.9" font-family="Liberation Sans, sans-serif" class="r" font-size="10.2" fill="#000" textLength="20.4" lengthAdjust="spacingAndGlyphs">0.5°</text></svg></body></html>
